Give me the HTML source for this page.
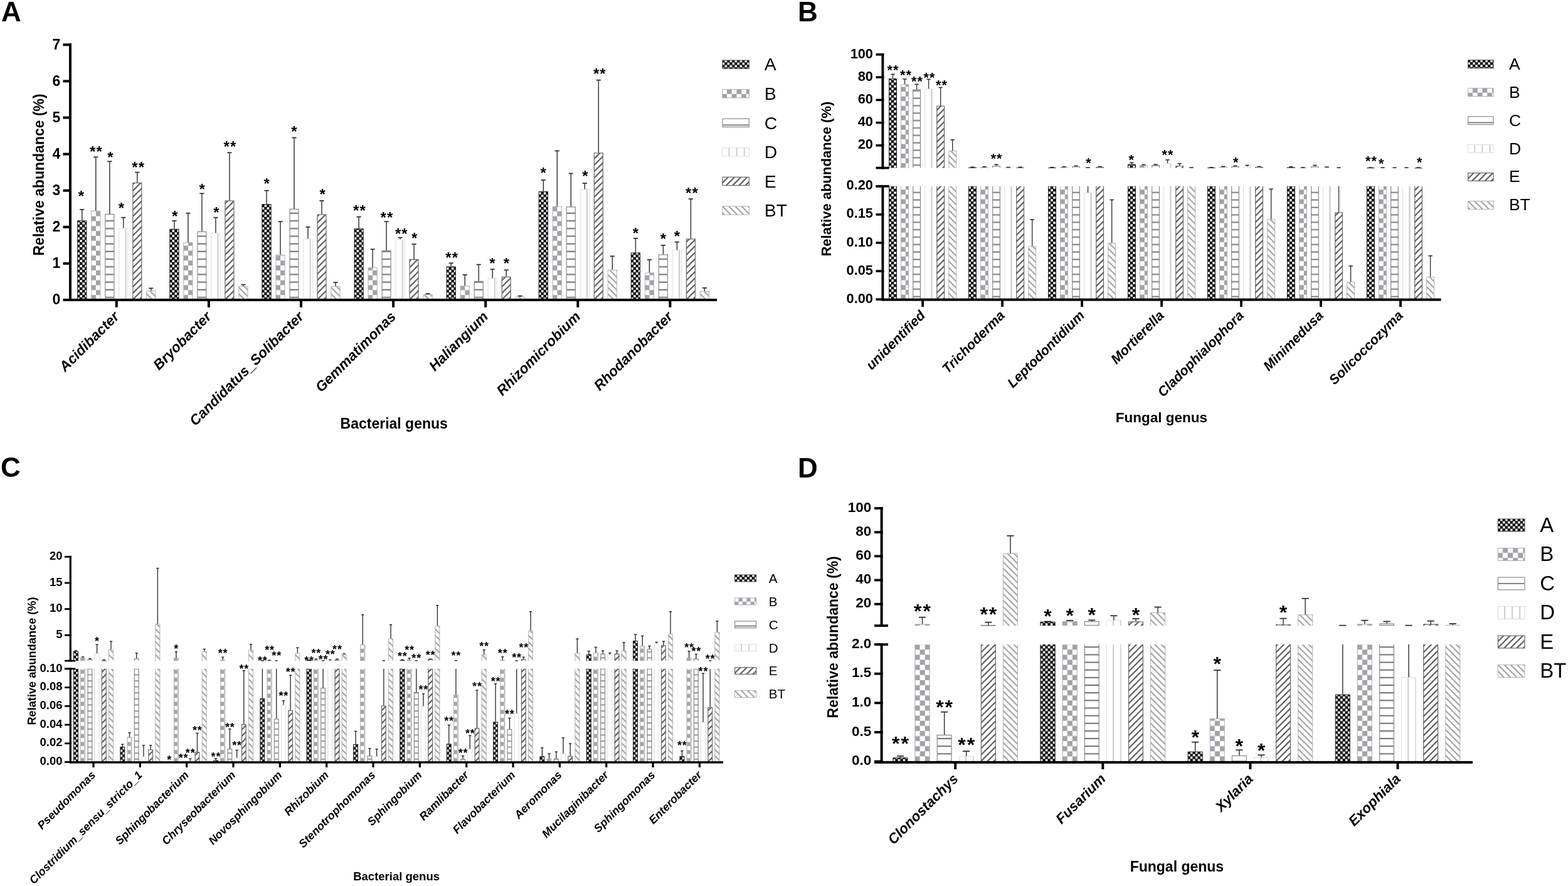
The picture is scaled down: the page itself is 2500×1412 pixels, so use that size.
<!DOCTYPE html><html><head><meta charset="utf-8"><title>Relative abundance of bacterial and fungal genera</title><style>html,body{margin:0;padding:0;background:#fff;}svg{display:block;}text{font-family:"Liberation Sans", Arial, Helvetica, sans-serif;fill:#000;}</style></head><body><svg xmlns="http://www.w3.org/2000/svg" width="2500" height="1412" viewBox="0 0 2500 1412"><rect width="2500" height="1412" fill="#fff"/><defs><pattern id="pA" patternUnits="userSpaceOnUse" width="8" height="8"><rect width="8" height="8" fill="#000"/><rect x="4.2" y="0.2" width="3.6" height="3.6" fill="#fff"/><rect x="0.2" y="4.2" width="3.6" height="3.6" fill="#fff"/></pattern><pattern id="pB" patternUnits="userSpaceOnUse" width="15.4" height="15.7"><rect width="15.4" height="15.7" fill="#fff"/><rect x="7.7" width="7.7" height="7.85" fill="#a2a2a8"/><rect y="7.85" width="7.7" height="7.85" fill="#a2a2a8"/></pattern><pattern id="pBb" patternUnits="userSpaceOnUse" width="15.6" height="15.2"><rect width="15.6" height="15.2" fill="#fff"/><rect x="7.8" width="7.8" height="7.6" fill="#a2a2a8"/><rect y="7.6" width="7.8" height="7.6" fill="#a2a2a8"/></pattern><pattern id="pBc" patternUnits="userSpaceOnUse" width="12.8" height="12.8"><rect width="12.8" height="12.8" fill="#fff"/><rect x="6.4" width="6.4" height="6.4" fill="#a2a2a8"/><rect y="6.4" width="6.4" height="6.4" fill="#a2a2a8"/></pattern><pattern id="pBd" patternUnits="userSpaceOnUse" width="16.2" height="16.2"><rect width="16.2" height="16.2" fill="#fff"/><rect x="8.1" width="8.1" height="8.1" fill="#a2a2a8"/><rect y="8.1" width="8.1" height="8.1" fill="#a2a2a8"/></pattern><pattern id="pC" patternUnits="userSpaceOnUse" width="12" height="12.2"><rect width="12" height="12.2" fill="#fff"/><rect y="7.20" width="12" height="2.0" fill="#707070"/><rect y="-5.00" width="12" height="2.0" fill="#707070"/></pattern><pattern id="pCb" patternUnits="userSpaceOnUse" width="12" height="11.85"><rect width="12" height="11.85" fill="#fff"/><rect y="6.50" width="12" height="1.9" fill="#727272"/><rect y="-5.35" width="12" height="1.9" fill="#727272"/></pattern><pattern id="pCc" patternUnits="userSpaceOnUse" width="12" height="9.6"><rect width="12" height="9.6" fill="#fff"/><rect y="4.20" width="12" height="1.6" fill="#808080"/><rect y="-5.40" width="12" height="1.6" fill="#808080"/></pattern><pattern id="pCd" patternUnits="userSpaceOnUse" width="12" height="12.15"><rect width="12" height="12.15" fill="#fff"/><rect y="11.15" width="12" height="2.0" fill="#707070"/><rect y="-1.00" width="12" height="2.0" fill="#707070"/></pattern><pattern id="pD" patternUnits="userSpaceOnUse" width="12.1" height="10"><rect width="12.1" height="10" fill="#fff"/><rect x="10.3" width="2.8" height="10" fill="#cacaca"/></pattern><pattern id="pE" patternUnits="userSpaceOnUse" width="10.2" height="10.2"><rect width="10.2" height="10.2" fill="#fff"/><path d="M-2,12.2 L12.2,-2 M-2,2 L2,-2 M8.2,12.2 L12.2,8.2" stroke="#505050" stroke-width="2.1"/></pattern><pattern id="pT" patternUnits="userSpaceOnUse" width="10.2" height="10.2"><rect width="10.2" height="10.2" fill="#fff"/><path d="M-2,-2 L12.2,12.2 M-2,8.2 L2,12.2 M8.2,-2 L12.2,2" stroke="#9a9aa0" stroke-width="2.0"/></pattern></defs><g transform="translate(123.2,478)"><rect x="0.5" y="-126.16" width="14.2" height="126.16" fill="url(#pA)" stroke="#222" stroke-width="1.0"/></g><line x1="130.8" y1="333.91" x2="130.8" y2="351.34" stroke="#2b2b2b" stroke-width="1.4"/><line x1="127.2" y1="333.91" x2="134.4" y2="333.91" stroke="#2b2b2b" stroke-width="1.7"/><text x="129.5" y="321.4" font-size="24" font-weight="bold" font-style="normal" text-anchor="middle" >*</text><g transform="translate(145.2,478)"><rect x="0.5" y="-141.85" width="14.2" height="141.85" fill="url(#pB)" stroke="#b0b0b4" stroke-width="1.0"/></g><line x1="152.8" y1="250.25" x2="152.8" y2="335.65" stroke="#2b2b2b" stroke-width="1.4"/><line x1="149.2" y1="250.25" x2="156.4" y2="250.25" stroke="#2b2b2b" stroke-width="1.7"/><text x="147.7" y="250.4" font-size="24" font-weight="bold" font-style="normal" text-anchor="middle" >*</text><text x="158.1" y="250.4" font-size="24" font-weight="bold" font-style="normal" text-anchor="middle" >*</text><g transform="translate(167.2,478)"><rect x="0.6" y="-136.52" width="14" height="136.52" fill="url(#pC)" stroke="#8a8a8a" stroke-width="1.2"/></g><line x1="174.8" y1="257.22" x2="174.8" y2="340.88" stroke="#2b2b2b" stroke-width="1.4"/><line x1="171.2" y1="257.22" x2="178.4" y2="257.22" stroke="#2b2b2b" stroke-width="1.7"/><text x="175.9" y="258.5" font-size="24" font-weight="bold" font-style="normal" text-anchor="middle" >*</text><g transform="translate(189.2,478)"><rect x="0.5" y="-113.96" width="14.2" height="113.96" fill="url(#pD)" stroke="#dedede" stroke-width="1.0"/></g><line x1="196.8" y1="346.69" x2="196.8" y2="363.54" stroke="#2b2b2b" stroke-width="1.4"/><line x1="193.2" y1="346.69" x2="200.4" y2="346.69" stroke="#2b2b2b" stroke-width="1.7"/><text x="193.3" y="340.1" font-size="24" font-weight="bold" font-style="normal" text-anchor="middle" >*</text><g transform="translate(211.2,478)"><rect x="0.6" y="-186.48" width="14" height="186.48" fill="url(#pE)" stroke="#6a6a6a" stroke-width="1.2"/></g><line x1="218.8" y1="274.65" x2="218.8" y2="290.92" stroke="#2b2b2b" stroke-width="1.4"/><line x1="215.2" y1="274.65" x2="222.4" y2="274.65" stroke="#2b2b2b" stroke-width="1.7"/><text x="215" y="274.7" font-size="24" font-weight="bold" font-style="normal" text-anchor="middle" >*</text><text x="225.4" y="274.7" font-size="24" font-weight="bold" font-style="normal" text-anchor="middle" >*</text><g transform="translate(233.2,478)"><rect x="0.5" y="-14.61" width="14.2" height="14.61" fill="url(#pT)" stroke="#b4b4b8" stroke-width="1.0"/></g><line x1="240.8" y1="459.41" x2="240.8" y2="462.89" stroke="#2b2b2b" stroke-width="1.4"/><line x1="237.2" y1="459.41" x2="244.4" y2="459.41" stroke="#2b2b2b" stroke-width="1.7"/><g transform="translate(270.3,478)"><rect x="0.5" y="-112.79" width="14.2" height="112.79" fill="url(#pA)" stroke="#222" stroke-width="1.0"/></g><line x1="277.9" y1="351.92" x2="277.9" y2="364.71" stroke="#2b2b2b" stroke-width="1.4"/><line x1="274.3" y1="351.92" x2="281.5" y2="351.92" stroke="#2b2b2b" stroke-width="1.7"/><text x="278.6" y="353" font-size="24" font-weight="bold" font-style="normal" text-anchor="middle" >*</text><g transform="translate(292.3,478)"><rect x="0.5" y="-91.3" width="14.2" height="91.3" fill="url(#pB)" stroke="#b0b0b4" stroke-width="1.0"/></g><line x1="299.9" y1="339.72" x2="299.9" y2="386.2" stroke="#2b2b2b" stroke-width="1.4"/><line x1="296.3" y1="339.72" x2="303.5" y2="339.72" stroke="#2b2b2b" stroke-width="1.7"/><g transform="translate(314.3,478)"><rect x="0.6" y="-108.63" width="14" height="108.63" fill="url(#pC)" stroke="#8a8a8a" stroke-width="1.2"/></g><line x1="321.9" y1="308.35" x2="321.9" y2="368.77" stroke="#2b2b2b" stroke-width="1.4"/><line x1="318.3" y1="308.35" x2="325.5" y2="308.35" stroke="#2b2b2b" stroke-width="1.7"/><text x="322.2" y="309.8" font-size="24" font-weight="bold" font-style="normal" text-anchor="middle" >*</text><g transform="translate(336.3,478)"><rect x="0.5" y="-106.4" width="14.2" height="106.4" fill="url(#pD)" stroke="#dedede" stroke-width="1.0"/></g><line x1="343.9" y1="346.69" x2="343.9" y2="371.1" stroke="#2b2b2b" stroke-width="1.4"/><line x1="340.3" y1="346.69" x2="347.5" y2="346.69" stroke="#2b2b2b" stroke-width="1.7"/><text x="345" y="346.5" font-size="24" font-weight="bold" font-style="normal" text-anchor="middle" >*</text><g transform="translate(358.3,478)"><rect x="0.6" y="-158.01" width="14" height="158.01" fill="url(#pE)" stroke="#6a6a6a" stroke-width="1.2"/></g><line x1="365.9" y1="243.28" x2="365.9" y2="319.39" stroke="#2b2b2b" stroke-width="1.4"/><line x1="362.3" y1="243.28" x2="369.5" y2="243.28" stroke="#2b2b2b" stroke-width="1.7"/><text x="361.2" y="241.9" font-size="24" font-weight="bold" font-style="normal" text-anchor="middle" >*</text><text x="371.6" y="241.9" font-size="24" font-weight="bold" font-style="normal" text-anchor="middle" >*</text><g transform="translate(380.3,478)"><rect x="0.5" y="-21.58" width="14.2" height="21.58" fill="url(#pT)" stroke="#b4b4b8" stroke-width="1.0"/></g><line x1="387.9" y1="453.6" x2="387.9" y2="455.92" stroke="#2b2b2b" stroke-width="1.4"/><line x1="384.3" y1="453.6" x2="391.5" y2="453.6" stroke="#2b2b2b" stroke-width="1.7"/><g transform="translate(417.4,478)"><rect x="0.5" y="-152.3" width="14.2" height="152.3" fill="url(#pA)" stroke="#222" stroke-width="1.0"/></g><line x1="425" y1="303.7" x2="425" y2="325.2" stroke="#2b2b2b" stroke-width="1.4"/><line x1="421.4" y1="303.7" x2="428.6" y2="303.7" stroke="#2b2b2b" stroke-width="1.7"/><text x="425.1" y="300.7" font-size="24" font-weight="bold" font-style="normal" text-anchor="middle" >*</text><g transform="translate(439.4,478)"><rect x="0.5" y="-71.54" width="14.2" height="71.54" fill="url(#pB)" stroke="#b0b0b4" stroke-width="1.0"/></g><line x1="447" y1="353.09" x2="447" y2="405.96" stroke="#2b2b2b" stroke-width="1.4"/><line x1="443.4" y1="353.09" x2="450.6" y2="353.09" stroke="#2b2b2b" stroke-width="1.7"/><g transform="translate(461.4,478)"><rect x="0.6" y="-144.65" width="14" height="144.65" fill="url(#pC)" stroke="#8a8a8a" stroke-width="1.2"/></g><line x1="469" y1="219.45" x2="469" y2="332.75" stroke="#2b2b2b" stroke-width="1.4"/><line x1="465.4" y1="219.45" x2="472.6" y2="219.45" stroke="#2b2b2b" stroke-width="1.7"/><text x="469" y="217.9" font-size="24" font-weight="bold" font-style="normal" text-anchor="middle" >*</text><g transform="translate(483.4,478)"><rect x="0.5" y="-97.11" width="14.2" height="97.11" fill="url(#pD)" stroke="#dedede" stroke-width="1.0"/></g><line x1="491" y1="361.8" x2="491" y2="380.39" stroke="#2b2b2b" stroke-width="1.4"/><line x1="487.4" y1="361.8" x2="494.6" y2="361.8" stroke="#2b2b2b" stroke-width="1.7"/><g transform="translate(505.4,478)"><rect x="0.6" y="-135.93" width="14" height="135.93" fill="url(#pE)" stroke="#6a6a6a" stroke-width="1.2"/></g><line x1="513" y1="319.97" x2="513" y2="341.47" stroke="#2b2b2b" stroke-width="1.4"/><line x1="509.4" y1="319.97" x2="516.6" y2="319.97" stroke="#2b2b2b" stroke-width="1.7"/><text x="514.1" y="318" font-size="24" font-weight="bold" font-style="normal" text-anchor="middle" >*</text><g transform="translate(527.4,478)"><rect x="0.5" y="-21.58" width="14.2" height="21.58" fill="url(#pT)" stroke="#b4b4b8" stroke-width="1.0"/></g><line x1="535" y1="450.11" x2="535" y2="455.92" stroke="#2b2b2b" stroke-width="1.4"/><line x1="531.4" y1="450.11" x2="538.6" y2="450.11" stroke="#2b2b2b" stroke-width="1.7"/><g transform="translate(564.5,478)"><rect x="0.5" y="-113.38" width="14.2" height="113.38" fill="url(#pA)" stroke="#222" stroke-width="1.0"/></g><line x1="572.1" y1="345.53" x2="572.1" y2="364.12" stroke="#2b2b2b" stroke-width="1.4"/><line x1="568.5" y1="345.53" x2="575.7" y2="345.53" stroke="#2b2b2b" stroke-width="1.7"/><text x="567.7" y="344.1" font-size="24" font-weight="bold" font-style="normal" text-anchor="middle" >*</text><text x="578.1" y="344.1" font-size="24" font-weight="bold" font-style="normal" text-anchor="middle" >*</text><g transform="translate(586.5,478)"><rect x="0.5" y="-51.21" width="14.2" height="51.21" fill="url(#pB)" stroke="#b0b0b4" stroke-width="1.0"/></g><line x1="594.1" y1="397.24" x2="594.1" y2="426.29" stroke="#2b2b2b" stroke-width="1.4"/><line x1="590.5" y1="397.24" x2="597.7" y2="397.24" stroke="#2b2b2b" stroke-width="1.7"/><g transform="translate(608.5,478)"><rect x="0.6" y="-78.42" width="14" height="78.42" fill="url(#pC)" stroke="#8a8a8a" stroke-width="1.2"/></g><line x1="616.1" y1="353.09" x2="616.1" y2="398.98" stroke="#2b2b2b" stroke-width="1.4"/><line x1="612.5" y1="353.09" x2="619.7" y2="353.09" stroke="#2b2b2b" stroke-width="1.7"/><text x="611.2" y="354.7" font-size="24" font-weight="bold" font-style="normal" text-anchor="middle" >*</text><text x="621.6" y="354.7" font-size="24" font-weight="bold" font-style="normal" text-anchor="middle" >*</text><g transform="translate(630.5,478)"><rect x="0.5" y="-95.95" width="14.2" height="95.95" fill="url(#pD)" stroke="#dedede" stroke-width="1.0"/></g><line x1="638.1" y1="378.65" x2="638.1" y2="381.55" stroke="#2b2b2b" stroke-width="1.4"/><line x1="634.5" y1="378.65" x2="641.7" y2="378.65" stroke="#2b2b2b" stroke-width="1.7"/><text x="634.6" y="380.6" font-size="24" font-weight="bold" font-style="normal" text-anchor="middle" >*</text><text x="645" y="380.6" font-size="24" font-weight="bold" font-style="normal" text-anchor="middle" >*</text><g transform="translate(652.5,478)"><rect x="0.6" y="-64.47" width="14" height="64.47" fill="url(#pE)" stroke="#6a6a6a" stroke-width="1.2"/></g><line x1="660.1" y1="389.11" x2="660.1" y2="412.93" stroke="#2b2b2b" stroke-width="1.4"/><line x1="656.5" y1="389.11" x2="663.7" y2="389.11" stroke="#2b2b2b" stroke-width="1.7"/><text x="660.7" y="388.4" font-size="24" font-weight="bold" font-style="normal" text-anchor="middle" >*</text><g transform="translate(674.5,478)"><rect x="0.5" y="-8.21" width="14.2" height="8.21" fill="url(#pT)" stroke="#b4b4b8" stroke-width="1.0"/></g><line x1="682.1" y1="468.12" x2="682.1" y2="469.29" stroke="#2b2b2b" stroke-width="1.4"/><line x1="678.5" y1="468.12" x2="685.7" y2="468.12" stroke="#2b2b2b" stroke-width="1.7"/><g transform="translate(711.6,478)"><rect x="0.5" y="-52.95" width="14.2" height="52.95" fill="url(#pA)" stroke="#222" stroke-width="1.0"/></g><line x1="719.2" y1="419.32" x2="719.2" y2="424.55" stroke="#2b2b2b" stroke-width="1.4"/><line x1="715.6" y1="419.32" x2="722.8" y2="419.32" stroke="#2b2b2b" stroke-width="1.7"/><text x="714.9" y="418.8" font-size="24" font-weight="bold" font-style="normal" text-anchor="middle" >*</text><text x="725.3" y="418.8" font-size="24" font-weight="bold" font-style="normal" text-anchor="middle" >*</text><g transform="translate(733.6,478)"><rect x="0.5" y="-22.16" width="14.2" height="22.16" fill="url(#pB)" stroke="#b0b0b4" stroke-width="1.0"/></g><line x1="741.2" y1="437.91" x2="741.2" y2="455.34" stroke="#2b2b2b" stroke-width="1.4"/><line x1="737.6" y1="437.91" x2="744.8" y2="437.91" stroke="#2b2b2b" stroke-width="1.7"/><g transform="translate(755.6,478)"><rect x="0.6" y="-29.61" width="14" height="29.61" fill="url(#pC)" stroke="#8a8a8a" stroke-width="1.2"/></g><line x1="763.2" y1="421.64" x2="763.2" y2="447.79" stroke="#2b2b2b" stroke-width="1.4"/><line x1="759.6" y1="421.64" x2="766.8" y2="421.64" stroke="#2b2b2b" stroke-width="1.7"/><g transform="translate(777.6,478)"><rect x="0.5" y="-34.36" width="14.2" height="34.36" fill="url(#pD)" stroke="#dedede" stroke-width="1.0"/></g><line x1="785.2" y1="429.2" x2="785.2" y2="443.14" stroke="#2b2b2b" stroke-width="1.4"/><line x1="781.6" y1="429.2" x2="788.8" y2="429.2" stroke="#2b2b2b" stroke-width="1.7"/><text x="784.9" y="427.8" font-size="24" font-weight="bold" font-style="normal" text-anchor="middle" >*</text><g transform="translate(799.6,478)"><rect x="0.6" y="-36.58" width="14" height="36.58" fill="url(#pE)" stroke="#6a6a6a" stroke-width="1.2"/></g><line x1="807.2" y1="430.36" x2="807.2" y2="440.82" stroke="#2b2b2b" stroke-width="1.4"/><line x1="803.6" y1="430.36" x2="810.8" y2="430.36" stroke="#2b2b2b" stroke-width="1.7"/><text x="807.3" y="428" font-size="24" font-weight="bold" font-style="normal" text-anchor="middle" >*</text><g transform="translate(821.6,478)"><rect x="0.5" y="-4.73" width="14.2" height="4.73" fill="url(#pT)" stroke="#b4b4b8" stroke-width="1.0"/></g><line x1="829.2" y1="471.61" x2="829.2" y2="472.77" stroke="#2b2b2b" stroke-width="1.4"/><line x1="825.6" y1="471.61" x2="832.8" y2="471.61" stroke="#2b2b2b" stroke-width="1.7"/><g transform="translate(858.7,478)"><rect x="0.5" y="-172.64" width="14.2" height="172.64" fill="url(#pA)" stroke="#222" stroke-width="1.0"/></g><line x1="866.3" y1="286.85" x2="866.3" y2="304.86" stroke="#2b2b2b" stroke-width="1.4"/><line x1="862.7" y1="286.85" x2="869.9" y2="286.85" stroke="#2b2b2b" stroke-width="1.7"/><text x="866.1" y="283.7" font-size="24" font-weight="bold" font-style="normal" text-anchor="middle" >*</text><g transform="translate(880.7,478)"><rect x="0.5" y="-148.82" width="14.2" height="148.82" fill="url(#pB)" stroke="#b0b0b4" stroke-width="1.0"/></g><line x1="888.3" y1="240.37" x2="888.3" y2="328.68" stroke="#2b2b2b" stroke-width="1.4"/><line x1="884.7" y1="240.37" x2="891.9" y2="240.37" stroke="#2b2b2b" stroke-width="1.7"/><g transform="translate(902.7,478)"><rect x="0.6" y="-148.14" width="14" height="148.14" fill="url(#pC)" stroke="#8a8a8a" stroke-width="1.2"/></g><line x1="910.3" y1="276.39" x2="910.3" y2="329.26" stroke="#2b2b2b" stroke-width="1.4"/><line x1="906.7" y1="276.39" x2="913.9" y2="276.39" stroke="#2b2b2b" stroke-width="1.7"/><g transform="translate(924.7,478)"><rect x="0.5" y="-176.12" width="14.2" height="176.12" fill="url(#pD)" stroke="#dedede" stroke-width="1.0"/></g><line x1="932.3" y1="292.08" x2="932.3" y2="301.38" stroke="#2b2b2b" stroke-width="1.4"/><line x1="928.7" y1="292.08" x2="935.9" y2="292.08" stroke="#2b2b2b" stroke-width="1.7"/><text x="933" y="289.4" font-size="24" font-weight="bold" font-style="normal" text-anchor="middle" >*</text><g transform="translate(946.7,478)"><rect x="0.6" y="-234.12" width="14" height="234.12" fill="url(#pE)" stroke="#6a6a6a" stroke-width="1.2"/></g><line x1="954.3" y1="127.66" x2="954.3" y2="243.28" stroke="#2b2b2b" stroke-width="1.4"/><line x1="950.7" y1="127.66" x2="957.9" y2="127.66" stroke="#2b2b2b" stroke-width="1.7"/><text x="950.6" y="126.4" font-size="24" font-weight="bold" font-style="normal" text-anchor="middle" >*</text><text x="961" y="126.4" font-size="24" font-weight="bold" font-style="normal" text-anchor="middle" >*</text><g transform="translate(968.7,478)"><rect x="0.5" y="-47.72" width="14.2" height="47.72" fill="url(#pT)" stroke="#b4b4b8" stroke-width="1.0"/></g><line x1="976.3" y1="408.28" x2="976.3" y2="429.78" stroke="#2b2b2b" stroke-width="1.4"/><line x1="972.7" y1="408.28" x2="979.9" y2="408.28" stroke="#2b2b2b" stroke-width="1.7"/><g transform="translate(1005.8,478)"><rect x="0.5" y="-75.03" width="14.2" height="75.03" fill="url(#pA)" stroke="#222" stroke-width="1.0"/></g><line x1="1013.4" y1="379.81" x2="1013.4" y2="402.47" stroke="#2b2b2b" stroke-width="1.4"/><line x1="1009.8" y1="379.81" x2="1017" y2="379.81" stroke="#2b2b2b" stroke-width="1.7"/><text x="1013.3" y="379.8" font-size="24" font-weight="bold" font-style="normal" text-anchor="middle" >*</text><g transform="translate(1027.8,478)"><rect x="0.5" y="-43.07" width="14.2" height="43.07" fill="url(#pB)" stroke="#b0b0b4" stroke-width="1.0"/></g><line x1="1035.4" y1="414.09" x2="1035.4" y2="434.43" stroke="#2b2b2b" stroke-width="1.4"/><line x1="1031.8" y1="414.09" x2="1039" y2="414.09" stroke="#2b2b2b" stroke-width="1.7"/><g transform="translate(1049.8,478)"><rect x="0.6" y="-72.03" width="14" height="72.03" fill="url(#pC)" stroke="#8a8a8a" stroke-width="1.2"/></g><line x1="1057.4" y1="390.85" x2="1057.4" y2="405.38" stroke="#2b2b2b" stroke-width="1.4"/><line x1="1053.8" y1="390.85" x2="1061" y2="390.85" stroke="#2b2b2b" stroke-width="1.7"/><text x="1057.3" y="388.8" font-size="24" font-weight="bold" font-style="normal" text-anchor="middle" >*</text><g transform="translate(1071.8,478)"><rect x="0.5" y="-79.1" width="14.2" height="79.1" fill="url(#pD)" stroke="#dedede" stroke-width="1.0"/></g><line x1="1079.4" y1="385.62" x2="1079.4" y2="398.4" stroke="#2b2b2b" stroke-width="1.4"/><line x1="1075.8" y1="385.62" x2="1083" y2="385.62" stroke="#2b2b2b" stroke-width="1.7"/><text x="1079.5" y="384.9" font-size="24" font-weight="bold" font-style="normal" text-anchor="middle" >*</text><g transform="translate(1093.8,478)"><rect x="0.6" y="-97.01" width="14" height="97.01" fill="url(#pE)" stroke="#6a6a6a" stroke-width="1.2"/></g><line x1="1101.4" y1="317.06" x2="1101.4" y2="380.39" stroke="#2b2b2b" stroke-width="1.4"/><line x1="1097.8" y1="317.06" x2="1105" y2="317.06" stroke="#2b2b2b" stroke-width="1.7"/><text x="1097.7" y="316.3" font-size="24" font-weight="bold" font-style="normal" text-anchor="middle" >*</text><text x="1108.1" y="316.3" font-size="24" font-weight="bold" font-style="normal" text-anchor="middle" >*</text><g transform="translate(1115.8,478)"><rect x="0.5" y="-13.44" width="14.2" height="13.44" fill="url(#pT)" stroke="#b4b4b8" stroke-width="1.0"/></g><line x1="1123.4" y1="458.83" x2="1123.4" y2="464.06" stroke="#2b2b2b" stroke-width="1.4"/><line x1="1119.8" y1="458.83" x2="1127" y2="458.83" stroke="#2b2b2b" stroke-width="1.7"/><rect x="110" y="69.3" width="4" height="410.7" fill="#000"/><rect x="100.5" y="476" width="13.5" height="4" fill="#000"/><text x="96.3" y="485.4" font-size="23" font-weight="bold" font-style="normal" text-anchor="end" >0</text><rect x="100.5" y="417.9" width="13.5" height="4" fill="#000"/><text x="96.3" y="427.3" font-size="23" font-weight="bold" font-style="normal" text-anchor="end" >1</text><rect x="100.5" y="359.8" width="13.5" height="4" fill="#000"/><text x="96.3" y="369.2" font-size="23" font-weight="bold" font-style="normal" text-anchor="end" >2</text><rect x="100.5" y="301.7" width="13.5" height="4" fill="#000"/><text x="96.3" y="311.1" font-size="23" font-weight="bold" font-style="normal" text-anchor="end" >3</text><rect x="100.5" y="243.6" width="13.5" height="4" fill="#000"/><text x="96.3" y="253" font-size="23" font-weight="bold" font-style="normal" text-anchor="end" >4</text><rect x="100.5" y="185.5" width="13.5" height="4" fill="#000"/><text x="96.3" y="194.9" font-size="23" font-weight="bold" font-style="normal" text-anchor="end" >5</text><rect x="100.5" y="127.4" width="13.5" height="4" fill="#000"/><text x="96.3" y="136.8" font-size="23" font-weight="bold" font-style="normal" text-anchor="end" >6</text><rect x="100.5" y="69.3" width="13.5" height="4" fill="#000"/><text x="96.3" y="78.7" font-size="23" font-weight="bold" font-style="normal" text-anchor="end" >7</text><rect x="110" y="476" width="1033" height="4" fill="#000"/><rect x="183.8" y="478" width="4" height="11.8" fill="#000"/><text x="191.2" y="506" font-size="22.7" font-weight="bold" font-style="italic" text-anchor="end" transform="rotate(-45 191.2 506)">Acidibacter</text><rect x="330.9" y="478" width="4" height="11.8" fill="#000"/><text x="338.3" y="506" font-size="22.7" font-weight="bold" font-style="italic" text-anchor="end" transform="rotate(-45 338.3 506)">Bryobacter</text><rect x="478" y="478" width="4" height="11.8" fill="#000"/><text x="485.4" y="506" font-size="22.7" font-weight="bold" font-style="italic" text-anchor="end" transform="rotate(-45 485.4 506)">Candidatus_Solibacter</text><rect x="625.1" y="478" width="4" height="11.8" fill="#000"/><text x="632.5" y="506" font-size="22.7" font-weight="bold" font-style="italic" text-anchor="end" transform="rotate(-45 632.5 506)">Gemmatimonas</text><rect x="772.2" y="478" width="4" height="11.8" fill="#000"/><text x="779.6" y="506" font-size="22.7" font-weight="bold" font-style="italic" text-anchor="end" transform="rotate(-45 779.6 506)">Haliangium</text><rect x="919.3" y="478" width="4" height="11.8" fill="#000"/><text x="926.7" y="506" font-size="22.7" font-weight="bold" font-style="italic" text-anchor="end" transform="rotate(-45 926.7 506)">Rhizomicrobium</text><rect x="1066.4" y="478" width="4" height="11.8" fill="#000"/><text x="1073.8" y="506" font-size="22.7" font-weight="bold" font-style="italic" text-anchor="end" transform="rotate(-45 1073.8 506)">Rhodanobacter</text><text x="69.7" y="278.4" font-size="23" font-weight="bold" text-anchor="middle" transform="rotate(-90 69.7 278.4)">Relative abundance (%)</text><text x="628.2" y="682.6" font-size="23" font-weight="bold" font-style="normal" text-anchor="middle" >Bacterial genus</text><g transform="translate(1151.3,95.5)"><rect x="0.5" y="0.5" width="42.6" height="13.4" fill="url(#pA)" stroke="#555" stroke-width="1.0"/></g><text x="1218.8" y="112.43" font-size="28.3" font-weight="normal" font-style="normal" text-anchor="start" >A</text><g transform="translate(1151.3,142.05)"><rect x="0.5" y="0.5" width="42.6" height="13.4" fill="url(#pB)" stroke="#b0b0b4" stroke-width="1.0"/></g><text x="1218.8" y="158.98" font-size="28.3" font-weight="normal" font-style="normal" text-anchor="start" >B</text><g transform="translate(1151.3,188.6)"><rect x="0.6" y="0.6" width="42.4" height="13.2" fill="#fff" stroke="#8a8a8a" stroke-width="1.2"/><rect x="1.2" y="9.8" width="41.2" height="1.8" fill="#777"/></g><text x="1218.8" y="205.53" font-size="28.3" font-weight="normal" font-style="normal" text-anchor="start" >C</text><g transform="translate(1151.3,235.15)"><rect x="0.5" y="0.5" width="42.6" height="13.4" fill="url(#pD)" stroke="#dedede" stroke-width="1.0"/></g><text x="1218.8" y="252.08" font-size="28.3" font-weight="normal" font-style="normal" text-anchor="start" >D</text><g transform="translate(1151.3,281.7)"><rect x="0.6" y="0.6" width="42.4" height="13.2" fill="url(#pE)" stroke="#6a6a6a" stroke-width="1.2"/></g><text x="1218.8" y="298.63" font-size="28.3" font-weight="normal" font-style="normal" text-anchor="start" >E</text><g transform="translate(1151.3,328.25)"><rect x="0.5" y="0.5" width="42.6" height="13.4" fill="url(#pT)" stroke="#b4b4b8" stroke-width="1.0"/></g><text x="1218.8" y="345.18" font-size="28.3" font-weight="normal" font-style="normal" text-anchor="start" >BT</text><text x="2" y="34.4" font-size="44" font-weight="bold" font-style="normal" text-anchor="start" >A</text><g transform="translate(1417.05,477.1)"><rect x="0" y="-180.3" width="12.9" height="180.3" fill="url(#pA)"/><path d="M0.5,-180.3 V0 H12.4 V-180.3" fill="none" stroke="#222" stroke-width="1.0"/></g><g transform="translate(1417.05,267.6)"><rect x="0" y="-142.31" width="12.9" height="142.31" fill="url(#pA)"/><path d="M0.5,0 V-141.81 H12.4 V0" fill="none" stroke="#222" stroke-width="1.0"/></g><line x1="1423.5" y1="118.4" x2="1423.5" y2="125.29" stroke="#2b2b2b" stroke-width="1.3"/><line x1="1420.35" y1="118.4" x2="1426.65" y2="118.4" stroke="#2b2b2b" stroke-width="1.6"/><text x="1418.8" y="118.9" font-size="21.5" font-weight="bold" font-style="normal" text-anchor="middle" >*</text><text x="1428.2" y="118.9" font-size="21.5" font-weight="bold" font-style="normal" text-anchor="middle" >*</text><g transform="translate(1436.09,477.1)"><rect x="0" y="-180.3" width="12.9" height="180.3" fill="url(#pBb)"/><path d="M0.5,-180.3 V0 H12.4 V-180.3" fill="none" stroke="#b0b0b4" stroke-width="1.0"/></g><g transform="translate(1436.09,267.6)"><rect x="0" y="-133.26" width="12.9" height="133.26" fill="url(#pBb)"/><path d="M0.5,0 V-132.76 H12.4 V0" fill="none" stroke="#b0b0b4" stroke-width="1.0"/></g><line x1="1442.54" y1="126.01" x2="1442.54" y2="134.34" stroke="#2b2b2b" stroke-width="1.3"/><line x1="1439.39" y1="126.01" x2="1445.69" y2="126.01" stroke="#2b2b2b" stroke-width="1.6"/><text x="1439.2" y="126.9" font-size="21.5" font-weight="bold" font-style="normal" text-anchor="middle" >*</text><text x="1448.6" y="126.9" font-size="21.5" font-weight="bold" font-style="normal" text-anchor="middle" >*</text><g transform="translate(1455.13,477.1)"><rect x="0" y="-180.3" width="12.9" height="180.3" fill="url(#pCb)"/><path d="M0.6,-180.3 V0 H12.3 V-180.3" fill="none" stroke="#8a8a8a" stroke-width="1.2"/></g><g transform="translate(1455.13,267.6)"><rect x="0" y="-125.29" width="12.9" height="125.29" fill="url(#pCb)"/><path d="M0.6,0 V-124.69 H12.3 V0" fill="none" stroke="#8a8a8a" stroke-width="1.2"/></g><line x1="1461.58" y1="134.34" x2="1461.58" y2="142.31" stroke="#2b2b2b" stroke-width="1.3"/><line x1="1458.43" y1="134.34" x2="1464.73" y2="134.34" stroke="#2b2b2b" stroke-width="1.6"/><text x="1457.3" y="137" font-size="21.5" font-weight="bold" font-style="normal" text-anchor="middle" >*</text><text x="1466.7" y="137" font-size="21.5" font-weight="bold" font-style="normal" text-anchor="middle" >*</text><g transform="translate(1474.17,477.1)"><rect x="0" y="-180.3" width="12.9" height="180.3" fill="url(#pD)"/><path d="M0.5,-180.3 V0 H12.4 V-180.3" fill="none" stroke="#dedede" stroke-width="1.0"/></g><g transform="translate(1474.17,267.6)"><rect x="0" y="-126.2" width="12.9" height="126.2" fill="url(#pD)"/><path d="M0.5,0 V-125.7 H12.4 V0" fill="none" stroke="#dedede" stroke-width="1.0"/></g><line x1="1480.62" y1="126.37" x2="1480.62" y2="141.4" stroke="#2b2b2b" stroke-width="1.3"/><line x1="1477.47" y1="126.37" x2="1483.77" y2="126.37" stroke="#2b2b2b" stroke-width="1.6"/><text x="1476.7" y="131" font-size="21.5" font-weight="bold" font-style="normal" text-anchor="middle" >*</text><text x="1486.1" y="131" font-size="21.5" font-weight="bold" font-style="normal" text-anchor="middle" >*</text><g transform="translate(1493.21,477.1)"><rect x="0" y="-180.3" width="12.9" height="180.3" fill="url(#pE)"/><path d="M0.6,-180.3 V0 H12.3 V-180.3" fill="none" stroke="#6a6a6a" stroke-width="1.2"/></g><g transform="translate(1493.21,267.6)"><rect x="0" y="-99.22" width="12.9" height="99.22" fill="url(#pE)"/><path d="M0.6,0 V-98.62 H12.3 V0" fill="none" stroke="#6a6a6a" stroke-width="1.2"/></g><line x1="1499.66" y1="139.41" x2="1499.66" y2="168.38" stroke="#2b2b2b" stroke-width="1.3"/><line x1="1496.51" y1="139.41" x2="1502.81" y2="139.41" stroke="#2b2b2b" stroke-width="1.6"/><text x="1496.3" y="143.1" font-size="21.5" font-weight="bold" font-style="normal" text-anchor="middle" >*</text><text x="1505.7" y="143.1" font-size="21.5" font-weight="bold" font-style="normal" text-anchor="middle" >*</text><g transform="translate(1512.25,477.1)"><rect x="0" y="-180.3" width="12.9" height="180.3" fill="url(#pT)"/><path d="M0.5,-180.3 V0 H12.4 V-180.3" fill="none" stroke="#b4b4b8" stroke-width="1.0"/></g><g transform="translate(1512.25,267.6)"><rect x="0" y="-27.34" width="12.9" height="27.34" fill="url(#pT)"/><path d="M0.5,0 V-26.84 H12.4 V0" fill="none" stroke="#b4b4b8" stroke-width="1.0"/></g><line x1="1518.7" y1="222.7" x2="1518.7" y2="240.26" stroke="#2b2b2b" stroke-width="1.3"/><line x1="1515.55" y1="222.7" x2="1521.85" y2="222.7" stroke="#2b2b2b" stroke-width="1.6"/><g transform="translate(1544.03,477.1)"><rect x="0" y="-180.3" width="12.9" height="180.3" fill="url(#pA)"/><path d="M0.5,-180.3 V0 H12.4 V-180.3" fill="none" stroke="#222" stroke-width="1.0"/></g><g transform="translate(1544.03,267.6)"><rect x="0" y="-0.91" width="12.9" height="0.91" fill="url(#pA)"/><path d="M0.5,0 V-0.41 H12.4 V0" fill="none" stroke="#222" stroke-width="1.0"/></g><line x1="1550.48" y1="266.33" x2="1550.48" y2="266.69" stroke="#2b2b2b" stroke-width="1.3"/><line x1="1547.33" y1="266.33" x2="1553.63" y2="266.33" stroke="#2b2b2b" stroke-width="1.6"/><g transform="translate(1563.07,477.1)"><rect x="0" y="-180.3" width="12.9" height="180.3" fill="url(#pBb)"/><path d="M0.5,-180.3 V0 H12.4 V-180.3" fill="none" stroke="#b0b0b4" stroke-width="1.0"/></g><g transform="translate(1563.07,267.6)"><rect x="0" y="-1.09" width="12.9" height="1.09" fill="url(#pBb)"/><path d="M0.5,0 V-0.59 H12.4 V0" fill="none" stroke="#b0b0b4" stroke-width="1.0"/></g><line x1="1569.52" y1="265.79" x2="1569.52" y2="266.51" stroke="#2b2b2b" stroke-width="1.3"/><line x1="1566.37" y1="265.79" x2="1572.67" y2="265.79" stroke="#2b2b2b" stroke-width="1.6"/><g transform="translate(1582.11,477.1)"><rect x="0" y="-180.3" width="12.9" height="180.3" fill="url(#pCb)"/><path d="M0.6,-180.3 V0 H12.3 V-180.3" fill="none" stroke="#8a8a8a" stroke-width="1.2"/></g><g transform="translate(1582.11,267.6)"><rect x="0" y="-3.26" width="12.9" height="3.26" fill="url(#pCb)"/><path d="M0.6,0 V-2.66 H12.3 V0" fill="none" stroke="#8a8a8a" stroke-width="1.2"/></g><line x1="1588.56" y1="262.17" x2="1588.56" y2="264.34" stroke="#2b2b2b" stroke-width="1.3"/><line x1="1585.41" y1="262.17" x2="1591.71" y2="262.17" stroke="#2b2b2b" stroke-width="1.6"/><text x="1583.9" y="260" font-size="21.5" font-weight="bold" font-style="normal" text-anchor="middle" >*</text><text x="1593.3" y="260" font-size="21.5" font-weight="bold" font-style="normal" text-anchor="middle" >*</text><g transform="translate(1601.15,477.1)"><rect x="0" y="-180.3" width="12.9" height="180.3" fill="url(#pD)"/><path d="M0.5,-180.3 V0 H12.4 V-180.3" fill="none" stroke="#dedede" stroke-width="1.0"/></g><g transform="translate(1601.15,267.6)"><rect x="0" y="-0.54" width="12.9" height="0.54" fill="url(#pD)"/><path d="M0.5,0 V-0.04 H12.4 V0" fill="none" stroke="#dedede" stroke-width="1.0"/></g><line x1="1607.6" y1="266.69" x2="1607.6" y2="267.06" stroke="#2b2b2b" stroke-width="1.3"/><line x1="1604.45" y1="266.69" x2="1610.75" y2="266.69" stroke="#2b2b2b" stroke-width="1.6"/><g transform="translate(1620.19,477.1)"><rect x="0" y="-180.3" width="12.9" height="180.3" fill="url(#pE)"/><path d="M0.6,-180.3 V0 H12.3 V-180.3" fill="none" stroke="#6a6a6a" stroke-width="1.2"/></g><g transform="translate(1620.19,267.6)"><rect x="0" y="-0.72" width="12.9" height="0.72" fill="url(#pE)"/><path d="M0.6,0 V-0.12 H12.3 V0" fill="none" stroke="#6a6a6a" stroke-width="1.2"/></g><line x1="1626.64" y1="266.33" x2="1626.64" y2="266.88" stroke="#2b2b2b" stroke-width="1.3"/><line x1="1623.49" y1="266.33" x2="1629.79" y2="266.33" stroke="#2b2b2b" stroke-width="1.6"/><g transform="translate(1639.23,477.1)"><rect x="0.5" y="-84.24" width="11.9" height="84.24" fill="url(#pT)" stroke="#b4b4b8" stroke-width="1.0"/></g><line x1="1645.68" y1="349.99" x2="1645.68" y2="392.36" stroke="#2b2b2b" stroke-width="1.3"/><line x1="1642.53" y1="349.99" x2="1648.83" y2="349.99" stroke="#2b2b2b" stroke-width="1.6"/><g transform="translate(1671.01,477.1)"><rect x="0" y="-180.3" width="12.9" height="180.3" fill="url(#pA)"/><path d="M0.5,-180.3 V0 H12.4 V-180.3" fill="none" stroke="#222" stroke-width="1.0"/></g><g transform="translate(1671.01,267.6)"><rect x="0" y="-0.54" width="12.9" height="0.54" fill="url(#pA)"/><path d="M0.5,0 V-0.04 H12.4 V0" fill="none" stroke="#222" stroke-width="1.0"/></g><line x1="1677.46" y1="266.69" x2="1677.46" y2="267.06" stroke="#2b2b2b" stroke-width="1.3"/><line x1="1674.31" y1="266.69" x2="1680.61" y2="266.69" stroke="#2b2b2b" stroke-width="1.6"/><g transform="translate(1690.05,477.1)"><rect x="0" y="-180.3" width="12.9" height="180.3" fill="url(#pBb)"/><path d="M0.5,-180.3 V0 H12.4 V-180.3" fill="none" stroke="#b0b0b4" stroke-width="1.0"/></g><g transform="translate(1690.05,267.6)"><rect x="0" y="-1.27" width="12.9" height="1.27" fill="url(#pBb)"/><path d="M0.5,0 V-0.77 H12.4 V0" fill="none" stroke="#b0b0b4" stroke-width="1.0"/></g><line x1="1696.5" y1="265.79" x2="1696.5" y2="266.33" stroke="#2b2b2b" stroke-width="1.3"/><line x1="1693.35" y1="265.79" x2="1699.65" y2="265.79" stroke="#2b2b2b" stroke-width="1.6"/><g transform="translate(1709.09,477.1)"><rect x="0" y="-180.3" width="12.9" height="180.3" fill="url(#pCb)"/><path d="M0.6,-180.3 V0 H12.3 V-180.3" fill="none" stroke="#8a8a8a" stroke-width="1.2"/></g><g transform="translate(1709.09,267.6)"><rect x="0" y="-2.35" width="12.9" height="2.35" fill="url(#pCb)"/><path d="M0.6,0 V-1.75 H12.3 V0" fill="none" stroke="#8a8a8a" stroke-width="1.2"/></g><line x1="1715.54" y1="264.34" x2="1715.54" y2="265.25" stroke="#2b2b2b" stroke-width="1.3"/><line x1="1712.39" y1="264.34" x2="1718.69" y2="264.34" stroke="#2b2b2b" stroke-width="1.6"/><g transform="translate(1728.13,477.1)"><rect x="0.5" y="-169.52" width="11.9" height="169.52" fill="url(#pD)" stroke="#dedede" stroke-width="1.0"/></g><line x1="1734.58" y1="296.8" x2="1734.58" y2="307.08" stroke="#2b2b2b" stroke-width="1.3"/><line x1="1734.58" y1="267.06" x2="1734.58" y2="267.6" stroke="#2b2b2b" stroke-width="1.3"/><line x1="1731.43" y1="267.06" x2="1737.73" y2="267.06" stroke="#2b2b2b" stroke-width="1.6"/><text x="1735.5" y="266.8" font-size="21.5" font-weight="bold" font-style="normal" text-anchor="middle" >*</text><g transform="translate(1747.17,477.1)"><rect x="0" y="-180.3" width="12.9" height="180.3" fill="url(#pE)"/><path d="M0.6,-180.3 V0 H12.3 V-180.3" fill="none" stroke="#6a6a6a" stroke-width="1.2"/></g><g transform="translate(1747.17,267.6)"><rect x="0" y="-1.27" width="12.9" height="1.27" fill="url(#pE)"/><path d="M0.6,0 V-0.67 H12.3 V0" fill="none" stroke="#6a6a6a" stroke-width="1.2"/></g><line x1="1753.62" y1="265.61" x2="1753.62" y2="266.33" stroke="#2b2b2b" stroke-width="1.3"/><line x1="1750.47" y1="265.61" x2="1756.77" y2="265.61" stroke="#2b2b2b" stroke-width="1.6"/><g transform="translate(1766.21,477.1)"><rect x="0.5" y="-89.38" width="11.9" height="89.38" fill="url(#pT)" stroke="#b4b4b8" stroke-width="1.0"/></g><line x1="1772.66" y1="318.44" x2="1772.66" y2="387.22" stroke="#2b2b2b" stroke-width="1.3"/><line x1="1769.51" y1="318.44" x2="1775.81" y2="318.44" stroke="#2b2b2b" stroke-width="1.6"/><g transform="translate(1797.99,477.1)"><rect x="0" y="-180.3" width="12.9" height="180.3" fill="url(#pA)"/><path d="M0.5,-180.3 V0 H12.4 V-180.3" fill="none" stroke="#222" stroke-width="1.0"/></g><g transform="translate(1797.99,267.6)"><rect x="0" y="-5.79" width="12.9" height="5.79" fill="url(#pA)"/><path d="M0.5,0 V-5.29 H12.4 V0" fill="none" stroke="#222" stroke-width="1.0"/></g><line x1="1804.44" y1="259.27" x2="1804.44" y2="261.81" stroke="#2b2b2b" stroke-width="1.3"/><line x1="1801.29" y1="259.27" x2="1807.59" y2="259.27" stroke="#2b2b2b" stroke-width="1.6"/><text x="1803.8" y="261.8" font-size="21.5" font-weight="bold" font-style="normal" text-anchor="middle" >*</text><g transform="translate(1817.03,477.1)"><rect x="0" y="-180.3" width="12.9" height="180.3" fill="url(#pBb)"/><path d="M0.5,-180.3 V0 H12.4 V-180.3" fill="none" stroke="#b0b0b4" stroke-width="1.0"/></g><g transform="translate(1817.03,267.6)"><rect x="0" y="-4.35" width="12.9" height="4.35" fill="url(#pBb)"/><path d="M0.5,0 V-3.85 H12.4 V0" fill="none" stroke="#b0b0b4" stroke-width="1.0"/></g><line x1="1823.48" y1="262.53" x2="1823.48" y2="263.25" stroke="#2b2b2b" stroke-width="1.3"/><line x1="1820.33" y1="262.53" x2="1826.63" y2="262.53" stroke="#2b2b2b" stroke-width="1.6"/><g transform="translate(1836.07,477.1)"><rect x="0" y="-180.3" width="12.9" height="180.3" fill="url(#pCb)"/><path d="M0.6,-180.3 V0 H12.3 V-180.3" fill="none" stroke="#8a8a8a" stroke-width="1.2"/></g><g transform="translate(1836.07,267.6)"><rect x="0" y="-4.35" width="12.9" height="4.35" fill="url(#pCb)"/><path d="M0.6,0 V-3.75 H12.3 V0" fill="none" stroke="#8a8a8a" stroke-width="1.2"/></g><line x1="1842.52" y1="262.17" x2="1842.52" y2="263.25" stroke="#2b2b2b" stroke-width="1.3"/><line x1="1839.37" y1="262.17" x2="1845.67" y2="262.17" stroke="#2b2b2b" stroke-width="1.6"/><g transform="translate(1855.11,477.1)"><rect x="0" y="-180.3" width="12.9" height="180.3" fill="url(#pD)"/><path d="M0.5,-180.3 V0 H12.4 V-180.3" fill="none" stroke="#dedede" stroke-width="1.0"/></g><g transform="translate(1855.11,267.6)"><rect x="0" y="-7.6" width="12.9" height="7.6" fill="url(#pD)"/><path d="M0.5,0 V-7.1 H12.4 V0" fill="none" stroke="#dedede" stroke-width="1.0"/></g><line x1="1861.56" y1="254.74" x2="1861.56" y2="260" stroke="#2b2b2b" stroke-width="1.3"/><line x1="1858.41" y1="254.74" x2="1864.71" y2="254.74" stroke="#2b2b2b" stroke-width="1.6"/><text x="1856.7" y="253.8" font-size="21.5" font-weight="bold" font-style="normal" text-anchor="middle" >*</text><text x="1866.1" y="253.8" font-size="21.5" font-weight="bold" font-style="normal" text-anchor="middle" >*</text><g transform="translate(1874.15,477.1)"><rect x="0" y="-180.3" width="12.9" height="180.3" fill="url(#pE)"/><path d="M0.6,-180.3 V0 H12.3 V-180.3" fill="none" stroke="#6a6a6a" stroke-width="1.2"/></g><g transform="translate(1874.15,267.6)"><rect x="0" y="-3.44" width="12.9" height="3.44" fill="url(#pE)"/><path d="M0.6,0 V-2.84 H12.3 V0" fill="none" stroke="#6a6a6a" stroke-width="1.2"/></g><line x1="1880.6" y1="260.72" x2="1880.6" y2="264.16" stroke="#2b2b2b" stroke-width="1.3"/><line x1="1877.45" y1="260.72" x2="1883.75" y2="260.72" stroke="#2b2b2b" stroke-width="1.6"/><g transform="translate(1893.19,477.1)"><rect x="0" y="-180.3" width="12.9" height="180.3" fill="url(#pT)"/><path d="M0.5,-180.3 V0 H12.4 V-180.3" fill="none" stroke="#b4b4b8" stroke-width="1.0"/></g><line x1="1899.64" y1="267.06" x2="1899.64" y2="267.42" stroke="#2b2b2b" stroke-width="1.3"/><line x1="1896.49" y1="267.06" x2="1902.79" y2="267.06" stroke="#2b2b2b" stroke-width="1.6"/><g transform="translate(1924.97,477.1)"><rect x="0" y="-180.3" width="12.9" height="180.3" fill="url(#pA)"/><path d="M0.5,-180.3 V0 H12.4 V-180.3" fill="none" stroke="#222" stroke-width="1.0"/></g><g transform="translate(1924.97,267.6)"><rect x="0" y="-0.54" width="12.9" height="0.54" fill="url(#pA)"/><path d="M0.5,0 V-0.04 H12.4 V0" fill="none" stroke="#222" stroke-width="1.0"/></g><line x1="1931.42" y1="266.88" x2="1931.42" y2="267.06" stroke="#2b2b2b" stroke-width="1.3"/><line x1="1928.27" y1="266.88" x2="1934.57" y2="266.88" stroke="#2b2b2b" stroke-width="1.6"/><g transform="translate(1944.01,477.1)"><rect x="0" y="-180.3" width="12.9" height="180.3" fill="url(#pBb)"/><path d="M0.5,-180.3 V0 H12.4 V-180.3" fill="none" stroke="#b0b0b4" stroke-width="1.0"/></g><g transform="translate(1944.01,267.6)"><rect x="0" y="-1.45" width="12.9" height="1.45" fill="url(#pBb)"/><path d="M0.5,0 V-0.95 H12.4 V0" fill="none" stroke="#b0b0b4" stroke-width="1.0"/></g><line x1="1950.46" y1="265.25" x2="1950.46" y2="266.15" stroke="#2b2b2b" stroke-width="1.3"/><line x1="1947.31" y1="265.25" x2="1953.61" y2="265.25" stroke="#2b2b2b" stroke-width="1.6"/><g transform="translate(1963.05,477.1)"><rect x="0" y="-180.3" width="12.9" height="180.3" fill="url(#pCb)"/><path d="M0.6,-180.3 V0 H12.3 V-180.3" fill="none" stroke="#8a8a8a" stroke-width="1.2"/></g><g transform="translate(1963.05,267.6)"><rect x="0" y="-2.35" width="12.9" height="2.35" fill="url(#pCb)"/><path d="M0.6,0 V-1.75 H12.3 V0" fill="none" stroke="#8a8a8a" stroke-width="1.2"/></g><line x1="1969.5" y1="264.34" x2="1969.5" y2="265.25" stroke="#2b2b2b" stroke-width="1.3"/><line x1="1966.35" y1="264.34" x2="1972.65" y2="264.34" stroke="#2b2b2b" stroke-width="1.6"/><text x="1970.1" y="266.1" font-size="21.5" font-weight="bold" font-style="normal" text-anchor="middle" >*</text><g transform="translate(1982.09,477.1)"><rect x="0" y="-180.3" width="12.9" height="180.3" fill="url(#pD)"/><path d="M0.5,-180.3 V0 H12.4 V-180.3" fill="none" stroke="#dedede" stroke-width="1.0"/></g><g transform="translate(1982.09,267.6)"><rect x="0" y="-2.35" width="12.9" height="2.35" fill="url(#pD)"/><path d="M0.5,0 V-1.85 H12.4 V0" fill="none" stroke="#dedede" stroke-width="1.0"/></g><line x1="1988.54" y1="263.44" x2="1988.54" y2="265.25" stroke="#2b2b2b" stroke-width="1.3"/><line x1="1985.39" y1="263.44" x2="1991.69" y2="263.44" stroke="#2b2b2b" stroke-width="1.6"/><g transform="translate(2001.13,477.1)"><rect x="0" y="-180.3" width="12.9" height="180.3" fill="url(#pE)"/><path d="M0.6,-180.3 V0 H12.3 V-180.3" fill="none" stroke="#6a6a6a" stroke-width="1.2"/></g><g transform="translate(2001.13,267.6)"><rect x="0" y="-1.45" width="12.9" height="1.45" fill="url(#pE)"/><path d="M0.6,0 V-0.85 H12.3 V0" fill="none" stroke="#6a6a6a" stroke-width="1.2"/></g><line x1="2007.58" y1="265.43" x2="2007.58" y2="266.15" stroke="#2b2b2b" stroke-width="1.3"/><line x1="2004.43" y1="265.43" x2="2010.73" y2="265.43" stroke="#2b2b2b" stroke-width="1.6"/><g transform="translate(2020.17,477.1)"><rect x="0.5" y="-127.51" width="11.9" height="127.51" fill="url(#pT)" stroke="#b4b4b8" stroke-width="1.0"/></g><line x1="2026.62" y1="301.31" x2="2026.62" y2="349.09" stroke="#2b2b2b" stroke-width="1.3"/><line x1="2023.47" y1="301.31" x2="2029.77" y2="301.31" stroke="#2b2b2b" stroke-width="1.6"/><g transform="translate(2051.95,477.1)"><rect x="0" y="-180.3" width="12.9" height="180.3" fill="url(#pA)"/><path d="M0.5,-180.3 V0 H12.4 V-180.3" fill="none" stroke="#222" stroke-width="1.0"/></g><g transform="translate(2051.95,267.6)"><rect x="0" y="-1.09" width="12.9" height="1.09" fill="url(#pA)"/><path d="M0.5,0 V-0.59 H12.4 V0" fill="none" stroke="#222" stroke-width="1.0"/></g><line x1="2058.4" y1="265.79" x2="2058.4" y2="266.51" stroke="#2b2b2b" stroke-width="1.3"/><line x1="2055.25" y1="265.79" x2="2061.55" y2="265.79" stroke="#2b2b2b" stroke-width="1.6"/><g transform="translate(2070.99,477.1)"><rect x="0" y="-180.3" width="12.9" height="180.3" fill="url(#pBb)"/><path d="M0.5,-180.3 V0 H12.4 V-180.3" fill="none" stroke="#b0b0b4" stroke-width="1.0"/></g><g transform="translate(2070.99,267.6)"><rect x="0" y="-0.36" width="12.9" height="0.36" fill="url(#pBb)"/><path d="M0.5,0 V0.14 H12.4 V0" fill="none" stroke="#b0b0b4" stroke-width="1.0"/></g><line x1="2077.44" y1="266.88" x2="2077.44" y2="267.24" stroke="#2b2b2b" stroke-width="1.3"/><line x1="2074.29" y1="266.88" x2="2080.59" y2="266.88" stroke="#2b2b2b" stroke-width="1.6"/><g transform="translate(2090.03,477.1)"><rect x="0" y="-180.3" width="12.9" height="180.3" fill="url(#pCb)"/><path d="M0.6,-180.3 V0 H12.3 V-180.3" fill="none" stroke="#8a8a8a" stroke-width="1.2"/></g><g transform="translate(2090.03,267.6)"><rect x="0" y="-2.35" width="12.9" height="2.35" fill="url(#pCb)"/><path d="M0.6,0 V-1.75 H12.3 V0" fill="none" stroke="#8a8a8a" stroke-width="1.2"/></g><line x1="2096.48" y1="263.44" x2="2096.48" y2="265.25" stroke="#2b2b2b" stroke-width="1.3"/><line x1="2093.33" y1="263.44" x2="2099.63" y2="263.44" stroke="#2b2b2b" stroke-width="1.6"/><g transform="translate(2109.07,477.1)"><rect x="0" y="-180.3" width="12.9" height="180.3" fill="url(#pD)"/><path d="M0.5,-180.3 V0 H12.4 V-180.3" fill="none" stroke="#dedede" stroke-width="1.0"/></g><g transform="translate(2109.07,267.6)"><rect x="0" y="-0.72" width="12.9" height="0.72" fill="url(#pD)"/><path d="M0.5,0 V-0.22 H12.4 V0" fill="none" stroke="#dedede" stroke-width="1.0"/></g><line x1="2115.52" y1="266.15" x2="2115.52" y2="266.88" stroke="#2b2b2b" stroke-width="1.3"/><line x1="2112.37" y1="266.15" x2="2118.67" y2="266.15" stroke="#2b2b2b" stroke-width="1.6"/><g transform="translate(2128.11,477.1)"><rect x="0.6" y="-138.23" width="11.7" height="138.23" fill="url(#pE)" stroke="#6a6a6a" stroke-width="1.2"/></g><line x1="2134.56" y1="296.8" x2="2134.56" y2="338.27" stroke="#2b2b2b" stroke-width="1.3"/><line x1="2134.56" y1="267.24" x2="2134.56" y2="267.6" stroke="#2b2b2b" stroke-width="1.3"/><line x1="2131.41" y1="267.24" x2="2137.71" y2="267.24" stroke="#2b2b2b" stroke-width="1.6"/><g transform="translate(2147.15,477.1)"><rect x="0.5" y="-27.45" width="11.9" height="27.45" fill="url(#pT)" stroke="#b4b4b8" stroke-width="1.0"/></g><line x1="2153.6" y1="423.91" x2="2153.6" y2="449.15" stroke="#2b2b2b" stroke-width="1.3"/><line x1="2150.45" y1="423.91" x2="2156.75" y2="423.91" stroke="#2b2b2b" stroke-width="1.6"/><g transform="translate(2178.93,477.1)"><rect x="0" y="-180.3" width="12.9" height="180.3" fill="url(#pA)"/><path d="M0.5,-180.3 V0 H12.4 V-180.3" fill="none" stroke="#222" stroke-width="1.0"/></g><g transform="translate(2178.93,267.6)"><rect x="0" y="-0.36" width="12.9" height="0.36" fill="url(#pA)"/><path d="M0.5,0 V0.14 H12.4 V0" fill="none" stroke="#222" stroke-width="1.0"/></g><line x1="2185.38" y1="267.06" x2="2185.38" y2="267.24" stroke="#2b2b2b" stroke-width="1.3"/><line x1="2182.23" y1="267.06" x2="2188.53" y2="267.06" stroke="#2b2b2b" stroke-width="1.6"/><text x="2181.3" y="264.2" font-size="21.5" font-weight="bold" font-style="normal" text-anchor="middle" >*</text><text x="2190.7" y="264.2" font-size="21.5" font-weight="bold" font-style="normal" text-anchor="middle" >*</text><g transform="translate(2197.97,477.1)"><rect x="0" y="-180.3" width="12.9" height="180.3" fill="url(#pBb)"/><path d="M0.5,-180.3 V0 H12.4 V-180.3" fill="none" stroke="#b0b0b4" stroke-width="1.0"/></g><line x1="2204.42" y1="267.24" x2="2204.42" y2="267.42" stroke="#2b2b2b" stroke-width="1.3"/><line x1="2201.27" y1="267.24" x2="2207.57" y2="267.24" stroke="#2b2b2b" stroke-width="1.6"/><text x="2202.2" y="268.1" font-size="21.5" font-weight="bold" font-style="normal" text-anchor="middle" >*</text><g transform="translate(2217.01,477.1)"><rect x="0" y="-180.3" width="12.9" height="180.3" fill="url(#pCb)"/><path d="M0.6,-180.3 V0 H12.3 V-180.3" fill="none" stroke="#8a8a8a" stroke-width="1.2"/></g><line x1="2223.46" y1="267.24" x2="2223.46" y2="267.42" stroke="#2b2b2b" stroke-width="1.3"/><line x1="2220.31" y1="267.24" x2="2226.61" y2="267.24" stroke="#2b2b2b" stroke-width="1.6"/><g transform="translate(2236.05,477.1)"><rect x="0" y="-180.3" width="12.9" height="180.3" fill="url(#pD)"/><path d="M0.5,-180.3 V0 H12.4 V-180.3" fill="none" stroke="#dedede" stroke-width="1.0"/></g><line x1="2242.5" y1="267.24" x2="2242.5" y2="267.42" stroke="#2b2b2b" stroke-width="1.3"/><line x1="2239.35" y1="267.24" x2="2245.65" y2="267.24" stroke="#2b2b2b" stroke-width="1.6"/><g transform="translate(2255.09,477.1)"><rect x="0" y="-180.3" width="12.9" height="180.3" fill="url(#pE)"/><path d="M0.6,-180.3 V0 H12.3 V-180.3" fill="none" stroke="#6a6a6a" stroke-width="1.2"/></g><g transform="translate(2255.09,267.6)"><rect x="0" y="-0.36" width="12.9" height="0.36" fill="url(#pE)"/><path d="M0.6,0 V0.24 H12.3 V0" fill="none" stroke="#6a6a6a" stroke-width="1.2"/></g><line x1="2261.54" y1="267.06" x2="2261.54" y2="267.24" stroke="#2b2b2b" stroke-width="1.3"/><line x1="2258.39" y1="267.06" x2="2264.69" y2="267.06" stroke="#2b2b2b" stroke-width="1.6"/><text x="2263.2" y="266.1" font-size="21.5" font-weight="bold" font-style="normal" text-anchor="middle" >*</text><g transform="translate(2274.13,477.1)"><rect x="0.5" y="-35.56" width="11.9" height="35.56" fill="url(#pT)" stroke="#b4b4b8" stroke-width="1.0"/></g><line x1="2280.58" y1="407.68" x2="2280.58" y2="441.04" stroke="#2b2b2b" stroke-width="1.3"/><line x1="2277.43" y1="407.68" x2="2283.73" y2="407.68" stroke="#2b2b2b" stroke-width="1.6"/><rect x="1405.45" y="295" width="3.9" height="184.1" fill="#000"/><rect x="1396.5" y="475.3" width="12.85" height="3.6" fill="#000"/><text x="1392" y="482.7" font-size="21.8" font-weight="bold" font-style="normal" text-anchor="end" >0.00</text><rect x="1396.5" y="430.23" width="12.85" height="3.6" fill="#000"/><text x="1392" y="437.63" font-size="21.8" font-weight="bold" font-style="normal" text-anchor="end" >0.05</text><rect x="1396.5" y="385.15" width="12.85" height="3.6" fill="#000"/><text x="1392" y="392.55" font-size="21.8" font-weight="bold" font-style="normal" text-anchor="end" >0.10</text><rect x="1396.5" y="340.07" width="12.85" height="3.6" fill="#000"/><text x="1392" y="347.48" font-size="21.8" font-weight="bold" font-style="normal" text-anchor="end" >0.15</text><rect x="1396.5" y="295" width="12.85" height="3.6" fill="#000"/><text x="1392" y="302.4" font-size="21.8" font-weight="bold" font-style="normal" text-anchor="end" >0.20</text><rect x="1396.5" y="295" width="21" height="3.6" fill="#000"/><rect x="1405.45" y="85.1" width="3.9" height="184.3" fill="#000"/><rect x="1396.5" y="229.95" width="12.85" height="3.6" fill="#000"/><text x="1392" y="237.35" font-size="21.8" font-weight="bold" font-style="normal" text-anchor="end" >20</text><rect x="1396.5" y="193.74" width="12.85" height="3.6" fill="#000"/><text x="1392" y="201.14" font-size="21.8" font-weight="bold" font-style="normal" text-anchor="end" >40</text><rect x="1396.5" y="157.52" width="12.85" height="3.6" fill="#000"/><text x="1392" y="164.92" font-size="21.8" font-weight="bold" font-style="normal" text-anchor="end" >60</text><rect x="1396.5" y="121.31" width="12.85" height="3.6" fill="#000"/><text x="1392" y="128.71" font-size="21.8" font-weight="bold" font-style="normal" text-anchor="end" >80</text><rect x="1396.5" y="85.1" width="12.85" height="3.6" fill="#000"/><text x="1392" y="92.5" font-size="21.8" font-weight="bold" font-style="normal" text-anchor="end" >100</text><rect x="1396.5" y="265.8" width="21" height="3.6" fill="#000"/><rect x="1405.5" y="475.6" width="892" height="4" fill="#000"/><rect x="1469.2" y="477.6" width="3.8" height="11.4" fill="#000"/><text x="1476.3" y="504" font-size="21.6" font-weight="bold" font-style="italic" text-anchor="end" transform="rotate(-45 1476.3 504)">unidentified</text><rect x="1596.18" y="477.6" width="3.8" height="11.4" fill="#000"/><text x="1603.28" y="504" font-size="21.6" font-weight="bold" font-style="italic" text-anchor="end" transform="rotate(-45 1603.28 504)">Trichoderma</text><rect x="1723.16" y="477.6" width="3.8" height="11.4" fill="#000"/><text x="1730.26" y="504" font-size="21.6" font-weight="bold" font-style="italic" text-anchor="end" transform="rotate(-45 1730.26 504)">Leptodontidium</text><rect x="1850.14" y="477.6" width="3.8" height="11.4" fill="#000"/><text x="1857.24" y="504" font-size="21.6" font-weight="bold" font-style="italic" text-anchor="end" transform="rotate(-45 1857.24 504)">Mortierella</text><rect x="1977.12" y="477.6" width="3.8" height="11.4" fill="#000"/><text x="1984.22" y="504" font-size="21.6" font-weight="bold" font-style="italic" text-anchor="end" transform="rotate(-45 1984.22 504)">Cladophialophora</text><rect x="2104.1" y="477.6" width="3.8" height="11.4" fill="#000"/><text x="2111.2" y="504" font-size="21.6" font-weight="bold" font-style="italic" text-anchor="end" transform="rotate(-45 2111.2 504)">Minimedusa</text><rect x="2231.08" y="477.6" width="3.8" height="11.4" fill="#000"/><text x="2238.18" y="504" font-size="21.6" font-weight="bold" font-style="italic" text-anchor="end" transform="rotate(-45 2238.18 504)">Solicoccozyma</text><text x="1324.7" y="285.1" font-size="22" font-weight="bold" text-anchor="middle" transform="rotate(-90 1324.7 285.1)">Relative abundance (%)</text><text x="1851.8" y="672.8" font-size="22.5" font-weight="bold" font-style="normal" text-anchor="middle" >Fungal genus</text><g transform="translate(2340.1,95.2)"><rect x="0.5" y="0.5" width="40.5" height="13" fill="url(#pA)" stroke="#555" stroke-width="1.0"/></g><text x="2405.9" y="110.69" font-size="26.5" font-weight="normal" font-style="normal" text-anchor="start" >A</text><g transform="translate(2340.1,140.15)"><rect x="0.5" y="0.5" width="40.5" height="13" fill="url(#pBb)" stroke="#b0b0b4" stroke-width="1.0"/></g><text x="2405.9" y="155.64" font-size="26.5" font-weight="normal" font-style="normal" text-anchor="start" >B</text><g transform="translate(2340.1,185.1)"><rect x="0.6" y="0.6" width="40.3" height="12.8" fill="#fff" stroke="#8a8a8a" stroke-width="1.2"/><rect x="1.2" y="9.4" width="39.1" height="1.8" fill="#777"/></g><text x="2405.9" y="200.59" font-size="26.5" font-weight="normal" font-style="normal" text-anchor="start" >C</text><g transform="translate(2340.1,230.05)"><rect x="0.5" y="0.5" width="40.5" height="13" fill="url(#pD)" stroke="#dedede" stroke-width="1.0"/></g><text x="2405.9" y="245.54" font-size="26.5" font-weight="normal" font-style="normal" text-anchor="start" >D</text><g transform="translate(2340.1,275)"><rect x="0.6" y="0.6" width="40.3" height="12.8" fill="url(#pE)" stroke="#6a6a6a" stroke-width="1.2"/></g><text x="2405.9" y="290.49" font-size="26.5" font-weight="normal" font-style="normal" text-anchor="start" >E</text><g transform="translate(2340.1,319.95)"><rect x="0.5" y="0.5" width="40.5" height="13" fill="url(#pT)" stroke="#b4b4b8" stroke-width="1.0"/></g><text x="2405.9" y="335.44" font-size="26.5" font-weight="normal" font-style="normal" text-anchor="start" >BT</text><text x="1272" y="34.4" font-size="44" font-weight="bold" font-style="normal" text-anchor="start" >B</text><g transform="translate(117.05,1214.5)"><rect x="0" y="-148.7" width="7.9" height="148.7" fill="url(#pA)"/><path d="M0.5,-148.7 V0 H7.4 V-148.7" fill="none" stroke="#222" stroke-width="1.0"/></g><g transform="translate(117.05,1053.1)"><rect x="0" y="-15.41" width="7.9" height="15.41" fill="url(#pA)"/><path d="M0.5,0 V-14.91 H7.4 V0" fill="none" stroke="#222" stroke-width="1.0"/></g><line x1="121" y1="1036.85" x2="121" y2="1037.69" stroke="#2b2b2b" stroke-width="1.35"/><line x1="118.9" y1="1036.85" x2="123.1" y2="1036.85" stroke="#2b2b2b" stroke-width="1.5"/><g transform="translate(128.25,1214.5)"><rect x="0" y="-148.7" width="7.9" height="148.7" fill="url(#pBc)"/><path d="M0.5,-148.7 V0 H7.4 V-148.7" fill="none" stroke="#b0b0b4" stroke-width="1.0"/></g><g transform="translate(128.25,1053.1)"><rect x="0" y="-5" width="7.9" height="5" fill="url(#pBc)"/><path d="M0.5,0 V-4.5 H7.4 V0" fill="none" stroke="#b0b0b4" stroke-width="1.0"/></g><line x1="132.2" y1="1046.85" x2="132.2" y2="1048.1" stroke="#2b2b2b" stroke-width="1.35"/><line x1="130.1" y1="1046.85" x2="134.3" y2="1046.85" stroke="#2b2b2b" stroke-width="1.5"/><g transform="translate(139.45,1214.5)"><rect x="0" y="-148.7" width="7.9" height="148.7" fill="url(#pCc)"/><path d="M0.6,-148.7 V0 H7.3 V-148.7" fill="none" stroke="#8a8a8a" stroke-width="1.2"/></g><g transform="translate(139.45,1053.1)"><rect x="0" y="-2.5" width="7.9" height="2.5" fill="url(#pCc)"/><path d="M0.6,0 V-1.9 H7.3 V0" fill="none" stroke="#8a8a8a" stroke-width="1.2"/></g><line x1="143.4" y1="1049.77" x2="143.4" y2="1050.6" stroke="#2b2b2b" stroke-width="1.35"/><line x1="141.3" y1="1049.77" x2="145.5" y2="1049.77" stroke="#2b2b2b" stroke-width="1.5"/><g transform="translate(150.65,1214.5)"><rect x="0" y="-148.7" width="7.9" height="148.7" fill="url(#pD)"/><path d="M0.5,-148.7 V0 H7.4 V-148.7" fill="none" stroke="#dedede" stroke-width="1.0"/></g><g transform="translate(150.65,1053.1)"><rect x="0" y="-11.83" width="7.9" height="11.83" fill="url(#pD)"/><path d="M0.5,0 V-11.33 H7.4 V0" fill="none" stroke="#dedede" stroke-width="1.0"/></g><line x1="154.6" y1="1027.27" x2="154.6" y2="1041.27" stroke="#2b2b2b" stroke-width="1.35"/><line x1="152.5" y1="1027.27" x2="156.7" y2="1027.27" stroke="#2b2b2b" stroke-width="1.5"/><text x="154.6" y="1027.8" font-size="18" font-weight="bold" font-style="normal" text-anchor="middle" >*</text><g transform="translate(161.85,1214.5)"><rect x="0" y="-148.7" width="7.9" height="148.7" fill="url(#pE)"/><path d="M0.6,-148.7 V0 H7.3 V-148.7" fill="none" stroke="#6a6a6a" stroke-width="1.2"/></g><g transform="translate(161.85,1053.1)"><rect x="0" y="-0.58" width="7.9" height="0.58" fill="url(#pE)"/><path d="M0.6,0 V0.02 H7.3 V0" fill="none" stroke="#6a6a6a" stroke-width="1.2"/></g><line x1="165.8" y1="1051.52" x2="165.8" y2="1052.52" stroke="#2b2b2b" stroke-width="1.35"/><line x1="163.7" y1="1051.52" x2="167.9" y2="1051.52" stroke="#2b2b2b" stroke-width="1.5"/><g transform="translate(173.05,1214.5)"><rect x="0" y="-148.7" width="7.9" height="148.7" fill="url(#pT)"/><path d="M0.5,-148.7 V0 H7.4 V-148.7" fill="none" stroke="#b4b4b8" stroke-width="1.0"/></g><g transform="translate(173.05,1053.1)"><rect x="0" y="-18.33" width="7.9" height="18.33" fill="url(#pT)"/><path d="M0.5,0 V-17.83 H7.4 V0" fill="none" stroke="#b4b4b8" stroke-width="1.0"/></g><line x1="177" y1="1022.27" x2="177" y2="1034.77" stroke="#2b2b2b" stroke-width="1.35"/><line x1="174.9" y1="1022.27" x2="179.1" y2="1022.27" stroke="#2b2b2b" stroke-width="1.5"/><g transform="translate(191.39,1214.5)"><rect x="0.5" y="-24.04" width="6.9" height="24.04" fill="url(#pA)" stroke="#222" stroke-width="1.0"/></g><line x1="195.34" y1="1186.25" x2="195.34" y2="1189.96" stroke="#2b2b2b" stroke-width="1.35"/><line x1="193.24" y1="1186.25" x2="197.44" y2="1186.25" stroke="#2b2b2b" stroke-width="1.5"/><g transform="translate(202.59,1214.5)"><rect x="0.5" y="-39.65" width="6.9" height="39.65" fill="url(#pBc)" stroke="#b0b0b4" stroke-width="1.0"/></g><line x1="206.54" y1="1167.66" x2="206.54" y2="1174.35" stroke="#2b2b2b" stroke-width="1.35"/><line x1="204.44" y1="1167.66" x2="208.64" y2="1167.66" stroke="#2b2b2b" stroke-width="1.5"/><g transform="translate(213.79,1214.5)"><rect x="0" y="-148.7" width="7.9" height="148.7" fill="url(#pCc)"/><path d="M0.6,-148.7 V0 H7.3 V-148.7" fill="none" stroke="#8a8a8a" stroke-width="1.2"/></g><g transform="translate(213.79,1053.1)"><rect x="0" y="-3.75" width="7.9" height="3.75" fill="url(#pCc)"/><path d="M0.6,0 V-3.15 H7.3 V0" fill="none" stroke="#8a8a8a" stroke-width="1.2"/></g><line x1="217.74" y1="1040.94" x2="217.74" y2="1049.35" stroke="#2b2b2b" stroke-width="1.35"/><line x1="215.64" y1="1040.94" x2="219.84" y2="1040.94" stroke="#2b2b2b" stroke-width="1.5"/><g transform="translate(224.99,1214.5)"><rect x="0.5" y="-8.42" width="6.9" height="8.42" fill="url(#pD)" stroke="#dedede" stroke-width="1.0"/></g><line x1="228.94" y1="1187.73" x2="228.94" y2="1205.58" stroke="#2b2b2b" stroke-width="1.35"/><line x1="226.84" y1="1187.73" x2="231.04" y2="1187.73" stroke="#2b2b2b" stroke-width="1.5"/><g transform="translate(236.19,1214.5)"><rect x="0.6" y="-19.62" width="6.7" height="19.62" fill="url(#pE)" stroke="#6a6a6a" stroke-width="1.2"/></g><line x1="240.14" y1="1187.73" x2="240.14" y2="1194.28" stroke="#2b2b2b" stroke-width="1.35"/><line x1="238.04" y1="1187.73" x2="242.24" y2="1187.73" stroke="#2b2b2b" stroke-width="1.5"/><g transform="translate(247.39,1214.5)"><rect x="0" y="-148.7" width="7.9" height="148.7" fill="url(#pT)"/><path d="M0.5,-148.7 V0 H7.4 V-148.7" fill="none" stroke="#b4b4b8" stroke-width="1.0"/></g><g transform="translate(247.39,1053.1)"><rect x="0" y="-59.15" width="7.9" height="59.15" fill="url(#pT)"/><path d="M0.5,0 V-58.65 H7.4 V0" fill="none" stroke="#b4b4b8" stroke-width="1.0"/></g><line x1="251.34" y1="905.63" x2="251.34" y2="993.95" stroke="#2b2b2b" stroke-width="1.35"/><line x1="249.24" y1="905.63" x2="253.44" y2="905.63" stroke="#2b2b2b" stroke-width="1.5"/><text x="269.68" y="1216.7" font-size="18" font-weight="bold" font-style="normal" text-anchor="middle" >*</text><g transform="translate(276.93,1214.5)"><rect x="0" y="-148.7" width="7.9" height="148.7" fill="url(#pBc)"/><path d="M0.5,-148.7 V0 H7.4 V-148.7" fill="none" stroke="#b0b0b4" stroke-width="1.0"/></g><g transform="translate(276.93,1053.1)"><rect x="0" y="-4.75" width="7.9" height="4.75" fill="url(#pBc)"/><path d="M0.5,0 V-4.25 H7.4 V0" fill="none" stroke="#b0b0b4" stroke-width="1.0"/></g><line x1="280.88" y1="1038.69" x2="280.88" y2="1048.35" stroke="#2b2b2b" stroke-width="1.35"/><line x1="278.78" y1="1038.69" x2="282.98" y2="1038.69" stroke="#2b2b2b" stroke-width="1.5"/><text x="280.88" y="1040" font-size="18" font-weight="bold" font-style="normal" text-anchor="middle" >*</text><text x="288.18" y="1213.5" font-size="18" font-weight="bold" font-style="normal" text-anchor="middle" >*</text><text x="295.98" y="1213.5" font-size="18" font-weight="bold" font-style="normal" text-anchor="middle" >*</text><line x1="303.28" y1="1209" x2="303.28" y2="1214.5" stroke="#2b2b2b" stroke-width="1.35"/><line x1="301.18" y1="1209" x2="305.38" y2="1209" stroke="#2b2b2b" stroke-width="1.5"/><text x="299.38" y="1205.8" font-size="18" font-weight="bold" font-style="normal" text-anchor="middle" >*</text><text x="307.18" y="1205.8" font-size="18" font-weight="bold" font-style="normal" text-anchor="middle" >*</text><g transform="translate(310.53,1214.5)"><rect x="0.6" y="-15.76" width="6.7" height="15.76" fill="url(#pE)" stroke="#6a6a6a" stroke-width="1.2"/></g><line x1="314.48" y1="1168.4" x2="314.48" y2="1198.14" stroke="#2b2b2b" stroke-width="1.35"/><line x1="312.38" y1="1168.4" x2="316.58" y2="1168.4" stroke="#2b2b2b" stroke-width="1.5"/><text x="310.58" y="1170" font-size="18" font-weight="bold" font-style="normal" text-anchor="middle" >*</text><text x="318.38" y="1170" font-size="18" font-weight="bold" font-style="normal" text-anchor="middle" >*</text><g transform="translate(321.73,1214.5)"><rect x="0" y="-148.7" width="7.9" height="148.7" fill="url(#pT)"/><path d="M0.5,-148.7 V0 H7.4 V-148.7" fill="none" stroke="#b4b4b8" stroke-width="1.0"/></g><g transform="translate(321.73,1053.1)"><rect x="0" y="-15" width="7.9" height="15" fill="url(#pT)"/><path d="M0.5,0 V-14.5 H7.4 V0" fill="none" stroke="#b4b4b8" stroke-width="1.0"/></g><line x1="325.68" y1="1034.44" x2="325.68" y2="1038.1" stroke="#2b2b2b" stroke-width="1.35"/><line x1="323.58" y1="1034.44" x2="327.78" y2="1034.44" stroke="#2b2b2b" stroke-width="1.5"/><g transform="translate(340.07,1214.5)"><rect x="0.5" y="-2.47" width="6.9" height="2.47" fill="url(#pA)" stroke="#222" stroke-width="1.0"/></g><line x1="344.02" y1="1208.85" x2="344.02" y2="1211.53" stroke="#2b2b2b" stroke-width="1.35"/><line x1="341.92" y1="1208.85" x2="346.12" y2="1208.85" stroke="#2b2b2b" stroke-width="1.5"/><text x="340.12" y="1212" font-size="18" font-weight="bold" font-style="normal" text-anchor="middle" >*</text><text x="347.92" y="1212" font-size="18" font-weight="bold" font-style="normal" text-anchor="middle" >*</text><g transform="translate(351.27,1214.5)"><rect x="0" y="-148.7" width="7.9" height="148.7" fill="url(#pBc)"/><path d="M0.5,-148.7 V0 H7.4 V-148.7" fill="none" stroke="#b0b0b4" stroke-width="1.0"/></g><g transform="translate(351.27,1053.1)"><rect x="0" y="-1.58" width="7.9" height="1.58" fill="url(#pBc)"/><path d="M0.5,0 V-1.08 H7.4 V0" fill="none" stroke="#b0b0b4" stroke-width="1.0"/></g><line x1="355.22" y1="1047.35" x2="355.22" y2="1051.52" stroke="#2b2b2b" stroke-width="1.35"/><line x1="353.12" y1="1047.35" x2="357.32" y2="1047.35" stroke="#2b2b2b" stroke-width="1.5"/><text x="351.32" y="1047" font-size="18" font-weight="bold" font-style="normal" text-anchor="middle" >*</text><text x="359.12" y="1047" font-size="18" font-weight="bold" font-style="normal" text-anchor="middle" >*</text><g transform="translate(362.47,1214.5)"><rect x="0.6" y="-20.66" width="6.7" height="20.66" fill="url(#pCc)" stroke="#8a8a8a" stroke-width="1.2"/></g><line x1="366.42" y1="1161.71" x2="366.42" y2="1193.24" stroke="#2b2b2b" stroke-width="1.35"/><line x1="364.32" y1="1161.71" x2="368.52" y2="1161.71" stroke="#2b2b2b" stroke-width="1.5"/><text x="362.52" y="1165.2" font-size="18" font-weight="bold" font-style="normal" text-anchor="middle" >*</text><text x="370.32" y="1165.2" font-size="18" font-weight="bold" font-style="normal" text-anchor="middle" >*</text><g transform="translate(373.67,1214.5)"><rect x="0.5" y="-6.34" width="6.9" height="6.34" fill="url(#pD)" stroke="#dedede" stroke-width="1.0"/></g><line x1="377.62" y1="1195.47" x2="377.62" y2="1207.66" stroke="#2b2b2b" stroke-width="1.35"/><line x1="375.52" y1="1195.47" x2="379.72" y2="1195.47" stroke="#2b2b2b" stroke-width="1.5"/><text x="373.72" y="1194.3" font-size="18" font-weight="bold" font-style="normal" text-anchor="middle" >*</text><text x="381.52" y="1194.3" font-size="18" font-weight="bold" font-style="normal" text-anchor="middle" >*</text><g transform="translate(384.87,1214.5)"><rect x="0.6" y="-59.92" width="6.7" height="59.92" fill="url(#pE)" stroke="#6a6a6a" stroke-width="1.2"/></g><line x1="388.82" y1="1068.77" x2="388.82" y2="1153.98" stroke="#2b2b2b" stroke-width="1.35"/><line x1="386.72" y1="1068.77" x2="390.92" y2="1068.77" stroke="#2b2b2b" stroke-width="1.5"/><text x="384.92" y="1072" font-size="18" font-weight="bold" font-style="normal" text-anchor="middle" >*</text><text x="392.72" y="1072" font-size="18" font-weight="bold" font-style="normal" text-anchor="middle" >*</text><g transform="translate(396.07,1214.5)"><rect x="0" y="-148.7" width="7.9" height="148.7" fill="url(#pT)"/><path d="M0.5,-148.7 V0 H7.4 V-148.7" fill="none" stroke="#b4b4b8" stroke-width="1.0"/></g><g transform="translate(396.07,1053.1)"><rect x="0" y="-17.5" width="7.9" height="17.5" fill="url(#pT)"/><path d="M0.5,0 V-17 H7.4 V0" fill="none" stroke="#b4b4b8" stroke-width="1.0"/></g><line x1="400.02" y1="1026.86" x2="400.02" y2="1035.6" stroke="#2b2b2b" stroke-width="1.35"/><line x1="397.92" y1="1026.86" x2="402.12" y2="1026.86" stroke="#2b2b2b" stroke-width="1.5"/><g transform="translate(414.41,1214.5)"><rect x="0.5" y="-101.06" width="6.9" height="101.06" fill="url(#pA)" stroke="#222" stroke-width="1.0"/></g><line x1="418.36" y1="1065.8" x2="418.36" y2="1112.94" stroke="#2b2b2b" stroke-width="1.35"/><line x1="418.36" y1="1052.93" x2="418.36" y2="1053.1" stroke="#2b2b2b" stroke-width="1.35"/><line x1="416.26" y1="1052.93" x2="420.46" y2="1052.93" stroke="#2b2b2b" stroke-width="1.5"/><text x="414.46" y="1058.6" font-size="18" font-weight="bold" font-style="normal" text-anchor="middle" >*</text><text x="422.26" y="1058.6" font-size="18" font-weight="bold" font-style="normal" text-anchor="middle" >*</text><g transform="translate(425.61,1214.5)"><rect x="0" y="-148.7" width="7.9" height="148.7" fill="url(#pBc)"/><path d="M0.5,-148.7 V0 H7.4 V-148.7" fill="none" stroke="#b0b0b4" stroke-width="1.0"/></g><g transform="translate(425.61,1053.1)"><rect x="0" y="-0.42" width="7.9" height="0.42" fill="url(#pBc)"/><path d="M0.5,0 V0.08 H7.4 V0" fill="none" stroke="#b0b0b4" stroke-width="1.0"/></g><line x1="429.56" y1="1052.27" x2="429.56" y2="1052.68" stroke="#2b2b2b" stroke-width="1.35"/><line x1="427.46" y1="1052.27" x2="431.66" y2="1052.27" stroke="#2b2b2b" stroke-width="1.5"/><text x="425.66" y="1041.6" font-size="18" font-weight="bold" font-style="normal" text-anchor="middle" >*</text><text x="433.46" y="1041.6" font-size="18" font-weight="bold" font-style="normal" text-anchor="middle" >*</text><g transform="translate(436.81,1214.5)"><rect x="0.6" y="-68.55" width="6.7" height="68.55" fill="url(#pCc)" stroke="#8a8a8a" stroke-width="1.2"/></g><line x1="440.76" y1="1065.8" x2="440.76" y2="1145.35" stroke="#2b2b2b" stroke-width="1.35"/><line x1="440.76" y1="1052.93" x2="440.76" y2="1053.1" stroke="#2b2b2b" stroke-width="1.35"/><line x1="438.66" y1="1052.93" x2="442.86" y2="1052.93" stroke="#2b2b2b" stroke-width="1.5"/><text x="436.86" y="1051.2" font-size="18" font-weight="bold" font-style="normal" text-anchor="middle" >*</text><text x="444.66" y="1051.2" font-size="18" font-weight="bold" font-style="normal" text-anchor="middle" >*</text><g transform="translate(448.01,1214.5)"><rect x="0.5" y="-90.65" width="6.9" height="90.65" fill="url(#pD)" stroke="#dedede" stroke-width="1.0"/></g><line x1="451.96" y1="1116.8" x2="451.96" y2="1123.35" stroke="#2b2b2b" stroke-width="1.35"/><line x1="449.86" y1="1116.8" x2="454.06" y2="1116.8" stroke="#2b2b2b" stroke-width="1.5"/><text x="448.06" y="1115.2" font-size="18" font-weight="bold" font-style="normal" text-anchor="middle" >*</text><text x="455.86" y="1115.2" font-size="18" font-weight="bold" font-style="normal" text-anchor="middle" >*</text><g transform="translate(459.21,1214.5)"><rect x="0.6" y="-81.93" width="6.7" height="81.93" fill="url(#pE)" stroke="#6a6a6a" stroke-width="1.2"/></g><line x1="463.16" y1="1076.21" x2="463.16" y2="1131.97" stroke="#2b2b2b" stroke-width="1.35"/><line x1="461.06" y1="1076.21" x2="465.26" y2="1076.21" stroke="#2b2b2b" stroke-width="1.5"/><text x="459.26" y="1076.5" font-size="18" font-weight="bold" font-style="normal" text-anchor="middle" >*</text><text x="467.06" y="1076.5" font-size="18" font-weight="bold" font-style="normal" text-anchor="middle" >*</text><g transform="translate(470.41,1214.5)"><rect x="0" y="-148.7" width="7.9" height="148.7" fill="url(#pT)"/><path d="M0.5,-148.7 V0 H7.4 V-148.7" fill="none" stroke="#b4b4b8" stroke-width="1.0"/></g><g transform="translate(470.41,1053.1)"><rect x="0" y="-12.5" width="7.9" height="12.5" fill="url(#pT)"/><path d="M0.5,0 V-12 H7.4 V0" fill="none" stroke="#b4b4b8" stroke-width="1.0"/></g><line x1="474.36" y1="1032.27" x2="474.36" y2="1040.6" stroke="#2b2b2b" stroke-width="1.35"/><line x1="472.26" y1="1032.27" x2="476.46" y2="1032.27" stroke="#2b2b2b" stroke-width="1.5"/><g transform="translate(488.75,1214.5)"><rect x="0" y="-148.7" width="7.9" height="148.7" fill="url(#pA)"/><path d="M0.5,-148.7 V0 H7.4 V-148.7" fill="none" stroke="#222" stroke-width="1.0"/></g><g transform="translate(488.75,1053.1)"><rect x="0" y="-0.83" width="7.9" height="0.83" fill="url(#pA)"/><path d="M0.5,0 V-0.33 H7.4 V0" fill="none" stroke="#222" stroke-width="1.0"/></g><line x1="492.7" y1="1051.85" x2="492.7" y2="1052.27" stroke="#2b2b2b" stroke-width="1.35"/><line x1="490.6" y1="1051.85" x2="494.8" y2="1051.85" stroke="#2b2b2b" stroke-width="1.5"/><text x="488.8" y="1058.6" font-size="18" font-weight="bold" font-style="normal" text-anchor="middle" >*</text><text x="496.6" y="1058.6" font-size="18" font-weight="bold" font-style="normal" text-anchor="middle" >*</text><g transform="translate(499.95,1214.5)"><rect x="0" y="-148.7" width="7.9" height="148.7" fill="url(#pBc)"/><path d="M0.5,-148.7 V0 H7.4 V-148.7" fill="none" stroke="#b0b0b4" stroke-width="1.0"/></g><g transform="translate(499.95,1053.1)"><rect x="0" y="-1.67" width="7.9" height="1.67" fill="url(#pBc)"/><path d="M0.5,0 V-1.17 H7.4 V0" fill="none" stroke="#b0b0b4" stroke-width="1.0"/></g><line x1="503.9" y1="1050.18" x2="503.9" y2="1051.43" stroke="#2b2b2b" stroke-width="1.35"/><line x1="501.8" y1="1050.18" x2="506" y2="1050.18" stroke="#2b2b2b" stroke-width="1.5"/><text x="500" y="1047.4" font-size="18" font-weight="bold" font-style="normal" text-anchor="middle" >*</text><text x="507.8" y="1047.4" font-size="18" font-weight="bold" font-style="normal" text-anchor="middle" >*</text><g transform="translate(511.15,1214.5)"><rect x="0.6" y="-117.77" width="6.7" height="117.77" fill="url(#pCc)" stroke="#8a8a8a" stroke-width="1.2"/></g><line x1="515.1" y1="1065.8" x2="515.1" y2="1096.13" stroke="#2b2b2b" stroke-width="1.35"/><line x1="515.1" y1="1052.93" x2="515.1" y2="1053.1" stroke="#2b2b2b" stroke-width="1.35"/><line x1="513" y1="1052.93" x2="517.2" y2="1052.93" stroke="#2b2b2b" stroke-width="1.5"/><text x="511.2" y="1057" font-size="18" font-weight="bold" font-style="normal" text-anchor="middle" >*</text><text x="519" y="1057" font-size="18" font-weight="bold" font-style="normal" text-anchor="middle" >*</text><g transform="translate(522.35,1214.5)"><rect x="0" y="-148.7" width="7.9" height="148.7" fill="url(#pD)"/><path d="M0.5,-148.7 V0 H7.4 V-148.7" fill="none" stroke="#dedede" stroke-width="1.0"/></g><g transform="translate(522.35,1053.1)"><rect x="0" y="-0.83" width="7.9" height="0.83" fill="url(#pD)"/><path d="M0.5,0 V-0.33 H7.4 V0" fill="none" stroke="#dedede" stroke-width="1.0"/></g><line x1="526.3" y1="1051.43" x2="526.3" y2="1052.27" stroke="#2b2b2b" stroke-width="1.35"/><line x1="524.2" y1="1051.43" x2="528.4" y2="1051.43" stroke="#2b2b2b" stroke-width="1.5"/><text x="522.4" y="1048.6" font-size="18" font-weight="bold" font-style="normal" text-anchor="middle" >*</text><text x="530.2" y="1048.6" font-size="18" font-weight="bold" font-style="normal" text-anchor="middle" >*</text><g transform="translate(533.55,1214.5)"><rect x="0" y="-148.7" width="7.9" height="148.7" fill="url(#pE)"/><path d="M0.6,-148.7 V0 H7.3 V-148.7" fill="none" stroke="#6a6a6a" stroke-width="1.2"/></g><g transform="translate(533.55,1053.1)"><rect x="0" y="-1.67" width="7.9" height="1.67" fill="url(#pE)"/><path d="M0.6,0 V-1.07 H7.3 V0" fill="none" stroke="#6a6a6a" stroke-width="1.2"/></g><line x1="537.5" y1="1050.18" x2="537.5" y2="1051.43" stroke="#2b2b2b" stroke-width="1.35"/><line x1="535.4" y1="1050.18" x2="539.6" y2="1050.18" stroke="#2b2b2b" stroke-width="1.5"/><text x="533.6" y="1041" font-size="18" font-weight="bold" font-style="normal" text-anchor="middle" >*</text><text x="541.4" y="1041" font-size="18" font-weight="bold" font-style="normal" text-anchor="middle" >*</text><g transform="translate(544.75,1214.5)"><rect x="0" y="-148.7" width="7.9" height="148.7" fill="url(#pT)"/><path d="M0.5,-148.7 V0 H7.4 V-148.7" fill="none" stroke="#b4b4b8" stroke-width="1.0"/></g><g transform="translate(544.75,1053.1)"><rect x="0" y="-10.58" width="7.9" height="10.58" fill="url(#pT)"/><path d="M0.5,0 V-10.08 H7.4 V0" fill="none" stroke="#b4b4b8" stroke-width="1.0"/></g><line x1="548.7" y1="1041.94" x2="548.7" y2="1042.52" stroke="#2b2b2b" stroke-width="1.35"/><line x1="546.6" y1="1041.94" x2="550.8" y2="1041.94" stroke="#2b2b2b" stroke-width="1.5"/><g transform="translate(563.09,1214.5)"><rect x="0.5" y="-28.05" width="6.9" height="28.05" fill="url(#pA)" stroke="#222" stroke-width="1.0"/></g><line x1="567.04" y1="1165.43" x2="567.04" y2="1185.95" stroke="#2b2b2b" stroke-width="1.35"/><line x1="564.94" y1="1165.43" x2="569.14" y2="1165.43" stroke="#2b2b2b" stroke-width="1.5"/><g transform="translate(574.29,1214.5)"><rect x="0" y="-148.7" width="7.9" height="148.7" fill="url(#pBc)"/><path d="M0.5,-148.7 V0 H7.4 V-148.7" fill="none" stroke="#b0b0b4" stroke-width="1.0"/></g><g transform="translate(574.29,1053.1)"><rect x="0" y="-25.83" width="7.9" height="25.83" fill="url(#pBc)"/><path d="M0.5,0 V-25.33 H7.4 V0" fill="none" stroke="#b0b0b4" stroke-width="1.0"/></g><line x1="578.24" y1="979.78" x2="578.24" y2="1027.27" stroke="#2b2b2b" stroke-width="1.35"/><line x1="576.14" y1="979.78" x2="580.34" y2="979.78" stroke="#2b2b2b" stroke-width="1.5"/><g transform="translate(585.49,1214.5)"><rect x="0.6" y="-9.66" width="6.7" height="9.66" fill="url(#pCc)" stroke="#8a8a8a" stroke-width="1.2"/></g><line x1="589.44" y1="1192.94" x2="589.44" y2="1204.24" stroke="#2b2b2b" stroke-width="1.35"/><line x1="587.34" y1="1192.94" x2="591.54" y2="1192.94" stroke="#2b2b2b" stroke-width="1.5"/><g transform="translate(596.69,1214.5)"><rect x="0.5" y="-8.87" width="6.9" height="8.87" fill="url(#pD)" stroke="#dedede" stroke-width="1.0"/></g><line x1="600.64" y1="1193.83" x2="600.64" y2="1205.13" stroke="#2b2b2b" stroke-width="1.35"/><line x1="598.54" y1="1193.83" x2="602.74" y2="1193.83" stroke="#2b2b2b" stroke-width="1.5"/><g transform="translate(607.89,1214.5)"><rect x="0.6" y="-89.36" width="6.7" height="89.36" fill="url(#pE)" stroke="#6a6a6a" stroke-width="1.2"/></g><line x1="611.84" y1="1065.8" x2="611.84" y2="1124.54" stroke="#2b2b2b" stroke-width="1.35"/><line x1="611.84" y1="1052.93" x2="611.84" y2="1053.1" stroke="#2b2b2b" stroke-width="1.35"/><line x1="609.74" y1="1052.93" x2="613.94" y2="1052.93" stroke="#2b2b2b" stroke-width="1.5"/><g transform="translate(619.09,1214.5)"><rect x="0" y="-148.7" width="7.9" height="148.7" fill="url(#pT)"/><path d="M0.5,-148.7 V0 H7.4 V-148.7" fill="none" stroke="#b4b4b8" stroke-width="1.0"/></g><g transform="translate(619.09,1053.1)"><rect x="0" y="-35.41" width="7.9" height="35.41" fill="url(#pT)"/><path d="M0.5,0 V-34.91 H7.4 V0" fill="none" stroke="#b4b4b8" stroke-width="1.0"/></g><line x1="623.04" y1="995.61" x2="623.04" y2="1017.69" stroke="#2b2b2b" stroke-width="1.35"/><line x1="620.94" y1="995.61" x2="625.14" y2="995.61" stroke="#2b2b2b" stroke-width="1.5"/><g transform="translate(637.43,1214.5)"><rect x="0" y="-148.7" width="7.9" height="148.7" fill="url(#pA)"/><path d="M0.5,-148.7 V0 H7.4 V-148.7" fill="none" stroke="#222" stroke-width="1.0"/></g><g transform="translate(637.43,1053.1)"><rect x="0" y="-1.25" width="7.9" height="1.25" fill="url(#pA)"/><path d="M0.5,0 V-0.75 H7.4 V0" fill="none" stroke="#222" stroke-width="1.0"/></g><line x1="641.38" y1="1051.43" x2="641.38" y2="1051.85" stroke="#2b2b2b" stroke-width="1.35"/><line x1="639.28" y1="1051.43" x2="643.48" y2="1051.43" stroke="#2b2b2b" stroke-width="1.5"/><text x="637.48" y="1051.5" font-size="18" font-weight="bold" font-style="normal" text-anchor="middle" >*</text><text x="645.28" y="1051.5" font-size="18" font-weight="bold" font-style="normal" text-anchor="middle" >*</text><g transform="translate(648.63,1214.5)"><rect x="0" y="-148.7" width="7.9" height="148.7" fill="url(#pBc)"/><path d="M0.5,-148.7 V0 H7.4 V-148.7" fill="none" stroke="#b0b0b4" stroke-width="1.0"/></g><g transform="translate(648.63,1053.1)"><rect x="0" y="-1.67" width="7.9" height="1.67" fill="url(#pBc)"/><path d="M0.5,0 V-1.17 H7.4 V0" fill="none" stroke="#b0b0b4" stroke-width="1.0"/></g><line x1="652.58" y1="1048.93" x2="652.58" y2="1051.43" stroke="#2b2b2b" stroke-width="1.35"/><line x1="650.48" y1="1048.93" x2="654.68" y2="1048.93" stroke="#2b2b2b" stroke-width="1.5"/><text x="648.68" y="1042.2" font-size="18" font-weight="bold" font-style="normal" text-anchor="middle" >*</text><text x="656.48" y="1042.2" font-size="18" font-weight="bold" font-style="normal" text-anchor="middle" >*</text><g transform="translate(659.83,1214.5)"><rect x="0.6" y="-110.93" width="6.7" height="110.93" fill="url(#pCc)" stroke="#8a8a8a" stroke-width="1.2"/></g><line x1="663.78" y1="1065.8" x2="663.78" y2="1102.97" stroke="#2b2b2b" stroke-width="1.35"/><line x1="663.78" y1="1052.93" x2="663.78" y2="1053.1" stroke="#2b2b2b" stroke-width="1.35"/><line x1="661.68" y1="1052.93" x2="665.88" y2="1052.93" stroke="#2b2b2b" stroke-width="1.5"/><text x="659.88" y="1055" font-size="18" font-weight="bold" font-style="normal" text-anchor="middle" >*</text><text x="667.68" y="1055" font-size="18" font-weight="bold" font-style="normal" text-anchor="middle" >*</text><g transform="translate(671.03,1214.5)"><rect x="0.5" y="-88.72" width="6.9" height="88.72" fill="url(#pD)" stroke="#dedede" stroke-width="1.0"/></g><line x1="674.98" y1="1105.95" x2="674.98" y2="1125.28" stroke="#2b2b2b" stroke-width="1.35"/><line x1="672.88" y1="1105.95" x2="677.08" y2="1105.95" stroke="#2b2b2b" stroke-width="1.5"/><text x="671.08" y="1104.7" font-size="18" font-weight="bold" font-style="normal" text-anchor="middle" >*</text><text x="678.88" y="1104.7" font-size="18" font-weight="bold" font-style="normal" text-anchor="middle" >*</text><g transform="translate(682.23,1214.5)"><rect x="0" y="-148.7" width="7.9" height="148.7" fill="url(#pE)"/><path d="M0.6,-148.7 V0 H7.3 V-148.7" fill="none" stroke="#6a6a6a" stroke-width="1.2"/></g><g transform="translate(682.23,1053.1)"><rect x="0" y="-2.5" width="7.9" height="2.5" fill="url(#pE)"/><path d="M0.6,0 V-1.9 H7.3 V0" fill="none" stroke="#6a6a6a" stroke-width="1.2"/></g><line x1="686.18" y1="1050.18" x2="686.18" y2="1050.6" stroke="#2b2b2b" stroke-width="1.35"/><line x1="684.08" y1="1050.18" x2="688.28" y2="1050.18" stroke="#2b2b2b" stroke-width="1.5"/><text x="682.28" y="1050" font-size="18" font-weight="bold" font-style="normal" text-anchor="middle" >*</text><text x="690.08" y="1050" font-size="18" font-weight="bold" font-style="normal" text-anchor="middle" >*</text><g transform="translate(693.43,1214.5)"><rect x="0" y="-148.7" width="7.9" height="148.7" fill="url(#pT)"/><path d="M0.5,-148.7 V0 H7.4 V-148.7" fill="none" stroke="#b4b4b8" stroke-width="1.0"/></g><g transform="translate(693.43,1053.1)"><rect x="0" y="-55.82" width="7.9" height="55.82" fill="url(#pT)"/><path d="M0.5,0 V-55.32 H7.4 V0" fill="none" stroke="#b4b4b8" stroke-width="1.0"/></g><line x1="697.38" y1="964.78" x2="697.38" y2="997.28" stroke="#2b2b2b" stroke-width="1.35"/><line x1="695.28" y1="964.78" x2="699.48" y2="964.78" stroke="#2b2b2b" stroke-width="1.5"/><g transform="translate(711.77,1214.5)"><rect x="0.5" y="-28.65" width="6.9" height="28.65" fill="url(#pA)" stroke="#222" stroke-width="1.0"/></g><line x1="715.72" y1="1155.47" x2="715.72" y2="1185.35" stroke="#2b2b2b" stroke-width="1.35"/><line x1="713.62" y1="1155.47" x2="717.82" y2="1155.47" stroke="#2b2b2b" stroke-width="1.5"/><text x="711.82" y="1155" font-size="18" font-weight="bold" font-style="normal" text-anchor="middle" >*</text><text x="719.62" y="1155" font-size="18" font-weight="bold" font-style="normal" text-anchor="middle" >*</text><g transform="translate(722.97,1214.5)"><rect x="0.5" y="-106.56" width="6.9" height="106.56" fill="url(#pBc)" stroke="#b0b0b4" stroke-width="1.0"/></g><line x1="726.92" y1="1065.8" x2="726.92" y2="1107.44" stroke="#2b2b2b" stroke-width="1.35"/><line x1="726.92" y1="1052.68" x2="726.92" y2="1053.1" stroke="#2b2b2b" stroke-width="1.35"/><line x1="724.82" y1="1052.68" x2="729.02" y2="1052.68" stroke="#2b2b2b" stroke-width="1.5"/><text x="723.02" y="1051.2" font-size="18" font-weight="bold" font-style="normal" text-anchor="middle" >*</text><text x="730.82" y="1051.2" font-size="18" font-weight="bold" font-style="normal" text-anchor="middle" >*</text><g transform="translate(734.17,1214.5)"><rect x="0.6" y="-4.6" width="6.7" height="4.6" fill="url(#pCc)" stroke="#8a8a8a" stroke-width="1.2"/></g><line x1="738.12" y1="1204.69" x2="738.12" y2="1209.3" stroke="#2b2b2b" stroke-width="1.35"/><line x1="736.02" y1="1204.69" x2="740.22" y2="1204.69" stroke="#2b2b2b" stroke-width="1.5"/><text x="734.22" y="1206" font-size="18" font-weight="bold" font-style="normal" text-anchor="middle" >*</text><text x="742.02" y="1206" font-size="18" font-weight="bold" font-style="normal" text-anchor="middle" >*</text><g transform="translate(745.37,1214.5)"><rect x="0.5" y="-20.47" width="6.9" height="20.47" fill="url(#pD)" stroke="#dedede" stroke-width="1.0"/></g><line x1="749.32" y1="1172.27" x2="749.32" y2="1193.53" stroke="#2b2b2b" stroke-width="1.35"/><line x1="747.22" y1="1172.27" x2="751.42" y2="1172.27" stroke="#2b2b2b" stroke-width="1.5"/><text x="745.42" y="1174.8" font-size="18" font-weight="bold" font-style="normal" text-anchor="middle" >*</text><text x="753.22" y="1174.8" font-size="18" font-weight="bold" font-style="normal" text-anchor="middle" >*</text><g transform="translate(756.57,1214.5)"><rect x="0.6" y="-53.68" width="6.7" height="53.68" fill="url(#pE)" stroke="#6a6a6a" stroke-width="1.2"/></g><line x1="760.52" y1="1100" x2="760.52" y2="1160.22" stroke="#2b2b2b" stroke-width="1.35"/><line x1="758.42" y1="1100" x2="762.62" y2="1100" stroke="#2b2b2b" stroke-width="1.5"/><text x="756.62" y="1100" font-size="18" font-weight="bold" font-style="normal" text-anchor="middle" >*</text><text x="764.42" y="1100" font-size="18" font-weight="bold" font-style="normal" text-anchor="middle" >*</text><g transform="translate(767.77,1214.5)"><rect x="0" y="-148.7" width="7.9" height="148.7" fill="url(#pT)"/><path d="M0.5,-148.7 V0 H7.4 V-148.7" fill="none" stroke="#b4b4b8" stroke-width="1.0"/></g><g transform="translate(767.77,1053.1)"><rect x="0" y="-10" width="7.9" height="10" fill="url(#pT)"/><path d="M0.5,0 V-9.5 H7.4 V0" fill="none" stroke="#b4b4b8" stroke-width="1.0"/></g><line x1="771.72" y1="1035.6" x2="771.72" y2="1043.1" stroke="#2b2b2b" stroke-width="1.35"/><line x1="769.62" y1="1035.6" x2="773.82" y2="1035.6" stroke="#2b2b2b" stroke-width="1.5"/><text x="767.82" y="1036.2" font-size="18" font-weight="bold" font-style="normal" text-anchor="middle" >*</text><text x="775.62" y="1036.2" font-size="18" font-weight="bold" font-style="normal" text-anchor="middle" >*</text><g transform="translate(786.11,1214.5)"><rect x="0.5" y="-63.59" width="6.9" height="63.59" fill="url(#pA)" stroke="#222" stroke-width="1.0"/></g><line x1="790.06" y1="1089.74" x2="790.06" y2="1150.41" stroke="#2b2b2b" stroke-width="1.35"/><line x1="787.96" y1="1089.74" x2="792.16" y2="1089.74" stroke="#2b2b2b" stroke-width="1.5"/><text x="786.16" y="1091.8" font-size="18" font-weight="bold" font-style="normal" text-anchor="middle" >*</text><text x="793.96" y="1091.8" font-size="18" font-weight="bold" font-style="normal" text-anchor="middle" >*</text><g transform="translate(797.31,1214.5)"><rect x="0" y="-148.7" width="7.9" height="148.7" fill="url(#pBc)"/><path d="M0.5,-148.7 V0 H7.4 V-148.7" fill="none" stroke="#b0b0b4" stroke-width="1.0"/></g><g transform="translate(797.31,1053.1)"><rect x="0" y="-1.42" width="7.9" height="1.42" fill="url(#pBc)"/><path d="M0.5,0 V-0.92 H7.4 V0" fill="none" stroke="#b0b0b4" stroke-width="1.0"/></g><line x1="801.26" y1="1046.85" x2="801.26" y2="1051.68" stroke="#2b2b2b" stroke-width="1.35"/><line x1="799.16" y1="1046.85" x2="803.36" y2="1046.85" stroke="#2b2b2b" stroke-width="1.5"/><text x="797.36" y="1047.4" font-size="18" font-weight="bold" font-style="normal" text-anchor="middle" >*</text><text x="805.16" y="1047.4" font-size="18" font-weight="bold" font-style="normal" text-anchor="middle" >*</text><g transform="translate(808.51,1214.5)"><rect x="0.6" y="-51.89" width="6.7" height="51.89" fill="url(#pCc)" stroke="#8a8a8a" stroke-width="1.2"/></g><line x1="812.46" y1="1144.46" x2="812.46" y2="1162.01" stroke="#2b2b2b" stroke-width="1.35"/><line x1="810.36" y1="1144.46" x2="814.56" y2="1144.46" stroke="#2b2b2b" stroke-width="1.5"/><text x="808.56" y="1144.2" font-size="18" font-weight="bold" font-style="normal" text-anchor="middle" >*</text><text x="816.36" y="1144.2" font-size="18" font-weight="bold" font-style="normal" text-anchor="middle" >*</text><g transform="translate(819.71,1214.5)"><rect x="0.5" y="-77.57" width="6.9" height="77.57" fill="url(#pD)" stroke="#dedede" stroke-width="1.0"/></g><line x1="823.66" y1="1065.8" x2="823.66" y2="1136.43" stroke="#2b2b2b" stroke-width="1.35"/><line x1="823.66" y1="1052.93" x2="823.66" y2="1053.1" stroke="#2b2b2b" stroke-width="1.35"/><line x1="821.56" y1="1052.93" x2="825.76" y2="1052.93" stroke="#2b2b2b" stroke-width="1.5"/><text x="819.76" y="1054.4" font-size="18" font-weight="bold" font-style="normal" text-anchor="middle" >*</text><text x="827.56" y="1054.4" font-size="18" font-weight="bold" font-style="normal" text-anchor="middle" >*</text><g transform="translate(830.91,1214.5)"><rect x="0" y="-148.7" width="7.9" height="148.7" fill="url(#pE)"/><path d="M0.6,-148.7 V0 H7.3 V-148.7" fill="none" stroke="#6a6a6a" stroke-width="1.2"/></g><g transform="translate(830.91,1053.1)"><rect x="0" y="-2.5" width="7.9" height="2.5" fill="url(#pE)"/><path d="M0.6,0 V-1.9 H7.3 V0" fill="none" stroke="#6a6a6a" stroke-width="1.2"/></g><line x1="834.86" y1="1047.27" x2="834.86" y2="1050.6" stroke="#2b2b2b" stroke-width="1.35"/><line x1="832.76" y1="1047.27" x2="836.96" y2="1047.27" stroke="#2b2b2b" stroke-width="1.5"/><text x="830.96" y="1038.4" font-size="18" font-weight="bold" font-style="normal" text-anchor="middle" >*</text><text x="838.76" y="1038.4" font-size="18" font-weight="bold" font-style="normal" text-anchor="middle" >*</text><g transform="translate(842.11,1214.5)"><rect x="0" y="-148.7" width="7.9" height="148.7" fill="url(#pT)"/><path d="M0.5,-148.7 V0 H7.4 V-148.7" fill="none" stroke="#b4b4b8" stroke-width="1.0"/></g><g transform="translate(842.11,1053.1)"><rect x="0" y="-48.32" width="7.9" height="48.32" fill="url(#pT)"/><path d="M0.5,0 V-47.82 H7.4 V0" fill="none" stroke="#b4b4b8" stroke-width="1.0"/></g><line x1="846.06" y1="974.78" x2="846.06" y2="1004.78" stroke="#2b2b2b" stroke-width="1.35"/><line x1="843.96" y1="974.78" x2="848.16" y2="974.78" stroke="#2b2b2b" stroke-width="1.5"/><g transform="translate(860.45,1214.5)"><rect x="0.5" y="-8.87" width="6.9" height="8.87" fill="url(#pA)" stroke="#222" stroke-width="1.0"/></g><line x1="864.4" y1="1191.75" x2="864.4" y2="1205.13" stroke="#2b2b2b" stroke-width="1.35"/><line x1="862.3" y1="1191.75" x2="866.5" y2="1191.75" stroke="#2b2b2b" stroke-width="1.5"/><g transform="translate(871.65,1214.5)"><rect x="0.5" y="-5.3" width="6.9" height="5.3" fill="url(#pBc)" stroke="#b0b0b4" stroke-width="1.0"/></g><line x1="875.6" y1="1201.12" x2="875.6" y2="1208.7" stroke="#2b2b2b" stroke-width="1.35"/><line x1="873.5" y1="1201.12" x2="877.7" y2="1201.12" stroke="#2b2b2b" stroke-width="1.5"/><g transform="translate(882.85,1214.5)"><rect x="0.6" y="-5.2" width="6.7" height="5.2" fill="url(#pCc)" stroke="#8a8a8a" stroke-width="1.2"/></g><line x1="886.8" y1="1198.14" x2="886.8" y2="1208.7" stroke="#2b2b2b" stroke-width="1.35"/><line x1="884.7" y1="1198.14" x2="888.9" y2="1198.14" stroke="#2b2b2b" stroke-width="1.5"/><g transform="translate(894.05,1214.5)"><rect x="0.5" y="-13.33" width="6.9" height="13.33" fill="url(#pD)" stroke="#dedede" stroke-width="1.0"/></g><line x1="898" y1="1175.84" x2="898" y2="1200.67" stroke="#2b2b2b" stroke-width="1.35"/><line x1="895.9" y1="1175.84" x2="900.1" y2="1175.84" stroke="#2b2b2b" stroke-width="1.5"/><g transform="translate(905.25,1214.5)"><rect x="0.6" y="-9.21" width="6.7" height="9.21" fill="url(#pE)" stroke="#6a6a6a" stroke-width="1.2"/></g><line x1="909.2" y1="1185.06" x2="909.2" y2="1204.69" stroke="#2b2b2b" stroke-width="1.35"/><line x1="907.1" y1="1185.06" x2="911.3" y2="1185.06" stroke="#2b2b2b" stroke-width="1.5"/><g transform="translate(916.45,1214.5)"><rect x="0" y="-148.7" width="7.9" height="148.7" fill="url(#pT)"/><path d="M0.5,-148.7 V0 H7.4 V-148.7" fill="none" stroke="#b4b4b8" stroke-width="1.0"/></g><g transform="translate(916.45,1053.1)"><rect x="0" y="-12.5" width="7.9" height="12.5" fill="url(#pT)"/><path d="M0.5,0 V-12 H7.4 V0" fill="none" stroke="#b4b4b8" stroke-width="1.0"/></g><line x1="920.4" y1="1018.11" x2="920.4" y2="1040.6" stroke="#2b2b2b" stroke-width="1.35"/><line x1="918.3" y1="1018.11" x2="922.5" y2="1018.11" stroke="#2b2b2b" stroke-width="1.5"/><g transform="translate(934.79,1214.5)"><rect x="0" y="-148.7" width="7.9" height="148.7" fill="url(#pA)"/><path d="M0.5,-148.7 V0 H7.4 V-148.7" fill="none" stroke="#222" stroke-width="1.0"/></g><g transform="translate(934.79,1053.1)"><rect x="0" y="-10.41" width="7.9" height="10.41" fill="url(#pA)"/><path d="M0.5,0 V-9.91 H7.4 V0" fill="none" stroke="#222" stroke-width="1.0"/></g><line x1="938.74" y1="1037.69" x2="938.74" y2="1042.69" stroke="#2b2b2b" stroke-width="1.35"/><line x1="936.64" y1="1037.69" x2="940.84" y2="1037.69" stroke="#2b2b2b" stroke-width="1.5"/><g transform="translate(945.99,1214.5)"><rect x="0" y="-148.7" width="7.9" height="148.7" fill="url(#pBc)"/><path d="M0.5,-148.7 V0 H7.4 V-148.7" fill="none" stroke="#b0b0b4" stroke-width="1.0"/></g><g transform="translate(945.99,1053.1)"><rect x="0" y="-13.16" width="7.9" height="13.16" fill="url(#pBc)"/><path d="M0.5,0 V-12.66 H7.4 V0" fill="none" stroke="#b0b0b4" stroke-width="1.0"/></g><line x1="949.94" y1="1031.44" x2="949.94" y2="1039.94" stroke="#2b2b2b" stroke-width="1.35"/><line x1="947.84" y1="1031.44" x2="952.04" y2="1031.44" stroke="#2b2b2b" stroke-width="1.5"/><g transform="translate(957.19,1214.5)"><rect x="0" y="-148.7" width="7.9" height="148.7" fill="url(#pCc)"/><path d="M0.6,-148.7 V0 H7.3 V-148.7" fill="none" stroke="#8a8a8a" stroke-width="1.2"/></g><g transform="translate(957.19,1053.1)"><rect x="0" y="-11.25" width="7.9" height="11.25" fill="url(#pCc)"/><path d="M0.6,0 V-10.65 H7.3 V0" fill="none" stroke="#8a8a8a" stroke-width="1.2"/></g><line x1="961.14" y1="1037.27" x2="961.14" y2="1041.85" stroke="#2b2b2b" stroke-width="1.35"/><line x1="959.04" y1="1037.27" x2="963.24" y2="1037.27" stroke="#2b2b2b" stroke-width="1.5"/><g transform="translate(968.39,1214.5)"><rect x="0" y="-148.7" width="7.9" height="148.7" fill="url(#pD)"/><path d="M0.5,-148.7 V0 H7.4 V-148.7" fill="none" stroke="#dedede" stroke-width="1.0"/></g><g transform="translate(968.39,1053.1)"><rect x="0" y="-10" width="7.9" height="10" fill="url(#pD)"/><path d="M0.5,0 V-9.5 H7.4 V0" fill="none" stroke="#dedede" stroke-width="1.0"/></g><line x1="972.34" y1="1040.6" x2="972.34" y2="1043.1" stroke="#2b2b2b" stroke-width="1.35"/><line x1="970.24" y1="1040.6" x2="974.44" y2="1040.6" stroke="#2b2b2b" stroke-width="1.5"/><g transform="translate(979.59,1214.5)"><rect x="0" y="-148.7" width="7.9" height="148.7" fill="url(#pE)"/><path d="M0.6,-148.7 V0 H7.3 V-148.7" fill="none" stroke="#6a6a6a" stroke-width="1.2"/></g><g transform="translate(979.59,1053.1)"><rect x="0" y="-11.25" width="7.9" height="11.25" fill="url(#pE)"/><path d="M0.6,0 V-10.65 H7.3 V0" fill="none" stroke="#6a6a6a" stroke-width="1.2"/></g><line x1="983.54" y1="1037.27" x2="983.54" y2="1041.85" stroke="#2b2b2b" stroke-width="1.35"/><line x1="981.44" y1="1037.27" x2="985.64" y2="1037.27" stroke="#2b2b2b" stroke-width="1.5"/><g transform="translate(990.79,1214.5)"><rect x="0" y="-148.7" width="7.9" height="148.7" fill="url(#pT)"/><path d="M0.5,-148.7 V0 H7.4 V-148.7" fill="none" stroke="#b4b4b8" stroke-width="1.0"/></g><g transform="translate(990.79,1053.1)"><rect x="0" y="-16.66" width="7.9" height="16.66" fill="url(#pT)"/><path d="M0.5,0 V-16.16 H7.4 V0" fill="none" stroke="#b4b4b8" stroke-width="1.0"/></g><line x1="994.74" y1="1023.94" x2="994.74" y2="1036.44" stroke="#2b2b2b" stroke-width="1.35"/><line x1="992.64" y1="1023.94" x2="996.84" y2="1023.94" stroke="#2b2b2b" stroke-width="1.5"/><g transform="translate(1009.13,1214.5)"><rect x="0" y="-148.7" width="7.9" height="148.7" fill="url(#pA)"/><path d="M0.5,-148.7 V0 H7.4 V-148.7" fill="none" stroke="#222" stroke-width="1.0"/></g><g transform="translate(1009.13,1053.1)"><rect x="0" y="-31.99" width="7.9" height="31.99" fill="url(#pA)"/><path d="M0.5,0 V-31.49 H7.4 V0" fill="none" stroke="#222" stroke-width="1.0"/></g><line x1="1013.08" y1="1011.19" x2="1013.08" y2="1021.11" stroke="#2b2b2b" stroke-width="1.35"/><line x1="1010.98" y1="1011.19" x2="1015.18" y2="1011.19" stroke="#2b2b2b" stroke-width="1.5"/><g transform="translate(1020.33,1214.5)"><rect x="0" y="-148.7" width="7.9" height="148.7" fill="url(#pBc)"/><path d="M0.5,-148.7 V0 H7.4 V-148.7" fill="none" stroke="#b0b0b4" stroke-width="1.0"/></g><g transform="translate(1020.33,1053.1)"><rect x="0" y="-23.5" width="7.9" height="23.5" fill="url(#pBc)"/><path d="M0.5,0 V-23 H7.4 V0" fill="none" stroke="#b0b0b4" stroke-width="1.0"/></g><line x1="1024.28" y1="1013.44" x2="1024.28" y2="1029.6" stroke="#2b2b2b" stroke-width="1.35"/><line x1="1022.18" y1="1013.44" x2="1026.38" y2="1013.44" stroke="#2b2b2b" stroke-width="1.5"/><g transform="translate(1031.53,1214.5)"><rect x="0" y="-148.7" width="7.9" height="148.7" fill="url(#pCc)"/><path d="M0.6,-148.7 V0 H7.3 V-148.7" fill="none" stroke="#8a8a8a" stroke-width="1.2"/></g><g transform="translate(1031.53,1053.1)"><rect x="0" y="-18.83" width="7.9" height="18.83" fill="url(#pCc)"/><path d="M0.6,0 V-18.23 H7.3 V0" fill="none" stroke="#8a8a8a" stroke-width="1.2"/></g><line x1="1035.48" y1="1029.6" x2="1035.48" y2="1034.27" stroke="#2b2b2b" stroke-width="1.35"/><line x1="1033.38" y1="1029.6" x2="1037.58" y2="1029.6" stroke="#2b2b2b" stroke-width="1.5"/><g transform="translate(1042.73,1214.5)"><rect x="0" y="-148.7" width="7.9" height="148.7" fill="url(#pD)"/><path d="M0.5,-148.7 V0 H7.4 V-148.7" fill="none" stroke="#dedede" stroke-width="1.0"/></g><g transform="translate(1042.73,1053.1)"><rect x="0" y="-27.91" width="7.9" height="27.91" fill="url(#pD)"/><path d="M0.5,0 V-27.41 H7.4 V0" fill="none" stroke="#dedede" stroke-width="1.0"/></g><line x1="1046.68" y1="1023.44" x2="1046.68" y2="1025.19" stroke="#2b2b2b" stroke-width="1.35"/><line x1="1044.58" y1="1023.44" x2="1048.78" y2="1023.44" stroke="#2b2b2b" stroke-width="1.5"/><g transform="translate(1053.93,1214.5)"><rect x="0" y="-148.7" width="7.9" height="148.7" fill="url(#pE)"/><path d="M0.6,-148.7 V0 H7.3 V-148.7" fill="none" stroke="#6a6a6a" stroke-width="1.2"/></g><g transform="translate(1053.93,1053.1)"><rect x="0" y="-24.5" width="7.9" height="24.5" fill="url(#pE)"/><path d="M0.6,0 V-23.9 H7.3 V0" fill="none" stroke="#6a6a6a" stroke-width="1.2"/></g><line x1="1057.88" y1="1022.19" x2="1057.88" y2="1028.6" stroke="#2b2b2b" stroke-width="1.35"/><line x1="1055.78" y1="1022.19" x2="1059.98" y2="1022.19" stroke="#2b2b2b" stroke-width="1.5"/><g transform="translate(1065.13,1214.5)"><rect x="0" y="-148.7" width="7.9" height="148.7" fill="url(#pT)"/><path d="M0.5,-148.7 V0 H7.4 V-148.7" fill="none" stroke="#b4b4b8" stroke-width="1.0"/></g><g transform="translate(1065.13,1053.1)"><rect x="0" y="-43.07" width="7.9" height="43.07" fill="url(#pT)"/><path d="M0.5,0 V-42.57 H7.4 V0" fill="none" stroke="#b4b4b8" stroke-width="1.0"/></g><line x1="1069.08" y1="974.78" x2="1069.08" y2="1010.03" stroke="#2b2b2b" stroke-width="1.35"/><line x1="1066.98" y1="974.78" x2="1071.18" y2="974.78" stroke="#2b2b2b" stroke-width="1.5"/><g transform="translate(1083.47,1214.5)"><rect x="0.5" y="-8.87" width="6.9" height="8.87" fill="url(#pA)" stroke="#222" stroke-width="1.0"/></g><line x1="1087.42" y1="1196.66" x2="1087.42" y2="1205.13" stroke="#2b2b2b" stroke-width="1.35"/><line x1="1085.32" y1="1196.66" x2="1089.52" y2="1196.66" stroke="#2b2b2b" stroke-width="1.5"/><text x="1083.52" y="1194" font-size="18" font-weight="bold" font-style="normal" text-anchor="middle" >*</text><text x="1091.32" y="1194" font-size="18" font-weight="bold" font-style="normal" text-anchor="middle" >*</text><g transform="translate(1094.67,1214.5)"><rect x="0" y="-148.7" width="7.9" height="148.7" fill="url(#pBc)"/><path d="M0.5,-148.7 V0 H7.4 V-148.7" fill="none" stroke="#b0b0b4" stroke-width="1.0"/></g><g transform="translate(1094.67,1053.1)"><rect x="0" y="-5.25" width="7.9" height="5.25" fill="url(#pBc)"/><path d="M0.5,0 V-4.75 H7.4 V0" fill="none" stroke="#b0b0b4" stroke-width="1.0"/></g><line x1="1098.62" y1="1037.85" x2="1098.62" y2="1047.85" stroke="#2b2b2b" stroke-width="1.35"/><line x1="1096.52" y1="1037.85" x2="1100.72" y2="1037.85" stroke="#2b2b2b" stroke-width="1.5"/><text x="1094.72" y="1038" font-size="18" font-weight="bold" font-style="normal" text-anchor="middle" >*</text><text x="1102.52" y="1038" font-size="18" font-weight="bold" font-style="normal" text-anchor="middle" >*</text><g transform="translate(1105.87,1214.5)"><rect x="0" y="-148.7" width="7.9" height="148.7" fill="url(#pCc)"/><path d="M0.6,-148.7 V0 H7.3 V-148.7" fill="none" stroke="#8a8a8a" stroke-width="1.2"/></g><g transform="translate(1105.87,1053.1)"><rect x="0" y="-3.5" width="7.9" height="3.5" fill="url(#pCc)"/><path d="M0.6,0 V-2.9 H7.3 V0" fill="none" stroke="#8a8a8a" stroke-width="1.2"/></g><line x1="1109.82" y1="1042.52" x2="1109.82" y2="1049.6" stroke="#2b2b2b" stroke-width="1.35"/><line x1="1107.72" y1="1042.52" x2="1111.92" y2="1042.52" stroke="#2b2b2b" stroke-width="1.5"/><text x="1105.92" y="1044" font-size="18" font-weight="bold" font-style="normal" text-anchor="middle" >*</text><text x="1113.72" y="1044" font-size="18" font-weight="bold" font-style="normal" text-anchor="middle" >*</text><g transform="translate(1117.07,1214.5)"><rect x="0.5" y="-63.14" width="6.9" height="63.14" fill="url(#pD)" stroke="#dedede" stroke-width="1.0"/></g><line x1="1121.02" y1="1073.23" x2="1121.02" y2="1150.86" stroke="#2b2b2b" stroke-width="1.35"/><line x1="1118.92" y1="1073.23" x2="1123.12" y2="1073.23" stroke="#2b2b2b" stroke-width="1.5"/><text x="1117.12" y="1076" font-size="18" font-weight="bold" font-style="normal" text-anchor="middle" >*</text><text x="1124.92" y="1076" font-size="18" font-weight="bold" font-style="normal" text-anchor="middle" >*</text><g transform="translate(1128.27,1214.5)"><rect x="0.6" y="-87.13" width="6.7" height="87.13" fill="url(#pE)" stroke="#6a6a6a" stroke-width="1.2"/></g><line x1="1132.22" y1="1065.8" x2="1132.22" y2="1126.77" stroke="#2b2b2b" stroke-width="1.35"/><line x1="1132.22" y1="1052.93" x2="1132.22" y2="1053.1" stroke="#2b2b2b" stroke-width="1.35"/><line x1="1130.12" y1="1052.93" x2="1134.32" y2="1052.93" stroke="#2b2b2b" stroke-width="1.5"/><text x="1128.32" y="1055.5" font-size="18" font-weight="bold" font-style="normal" text-anchor="middle" >*</text><text x="1136.12" y="1055.5" font-size="18" font-weight="bold" font-style="normal" text-anchor="middle" >*</text><g transform="translate(1139.47,1214.5)"><rect x="0" y="-148.7" width="7.9" height="148.7" fill="url(#pT)"/><path d="M0.5,-148.7 V0 H7.4 V-148.7" fill="none" stroke="#b4b4b8" stroke-width="1.0"/></g><g transform="translate(1139.47,1053.1)"><rect x="0" y="-45.82" width="7.9" height="45.82" fill="url(#pT)"/><path d="M0.5,0 V-45.32 H7.4 V0" fill="none" stroke="#b4b4b8" stroke-width="1.0"/></g><line x1="1143.42" y1="989.78" x2="1143.42" y2="1007.28" stroke="#2b2b2b" stroke-width="1.35"/><line x1="1141.32" y1="989.78" x2="1145.52" y2="989.78" stroke="#2b2b2b" stroke-width="1.5"/><rect x="110.7" y="1064.4" width="3.2" height="151.8" fill="#000"/><rect x="103" y="1213.1" width="10.9" height="2.8" fill="#000"/><text x="99.5" y="1219.2" font-size="18.5" font-weight="bold" font-style="normal" text-anchor="end" >0.00</text><rect x="103" y="1183.36" width="10.9" height="2.8" fill="#000"/><text x="99.5" y="1189.46" font-size="18.5" font-weight="bold" font-style="normal" text-anchor="end" >0.02</text><rect x="103" y="1153.62" width="10.9" height="2.8" fill="#000"/><text x="99.5" y="1159.72" font-size="18.5" font-weight="bold" font-style="normal" text-anchor="end" >0.04</text><rect x="103" y="1123.88" width="10.9" height="2.8" fill="#000"/><text x="99.5" y="1129.98" font-size="18.5" font-weight="bold" font-style="normal" text-anchor="end" >0.06</text><rect x="103" y="1094.14" width="10.9" height="2.8" fill="#000"/><text x="99.5" y="1100.24" font-size="18.5" font-weight="bold" font-style="normal" text-anchor="end" >0.08</text><rect x="103" y="1064.4" width="10.9" height="2.8" fill="#000"/><text x="99.5" y="1070.5" font-size="18.5" font-weight="bold" font-style="normal" text-anchor="end" >0.10</text><rect x="103" y="1064.4" width="17" height="2.8" fill="#000"/><rect x="110.7" y="885.9" width="3.2" height="168.6" fill="#000"/><rect x="103" y="1010.87" width="10.9" height="2.8" fill="#000"/><text x="99.5" y="1016.97" font-size="18.5" font-weight="bold" font-style="normal" text-anchor="end" >5</text><rect x="103" y="969.22" width="10.9" height="2.8" fill="#000"/><text x="99.5" y="975.32" font-size="18.5" font-weight="bold" font-style="normal" text-anchor="end" >10</text><rect x="103" y="927.56" width="10.9" height="2.8" fill="#000"/><text x="99.5" y="933.66" font-size="18.5" font-weight="bold" font-style="normal" text-anchor="end" >15</text><rect x="103" y="885.9" width="10.9" height="2.8" fill="#000"/><text x="99.5" y="892" font-size="18.5" font-weight="bold" font-style="normal" text-anchor="end" >20</text><rect x="103" y="1051.7" width="17" height="2.8" fill="#000"/><rect x="111" y="1213.2" width="1042" height="3.4" fill="#000"/><rect x="147.4" y="1214.9" width="3.2" height="8.1" fill="#000"/><text x="153.4" y="1236.3" font-size="17.9" font-weight="bold" font-style="italic" text-anchor="end" transform="rotate(-45 153.4 1236.3)">Pseudomonas</text><rect x="221.74" y="1214.9" width="3.2" height="8.1" fill="#000"/><text x="227.74" y="1236.3" font-size="17.9" font-weight="bold" font-style="italic" text-anchor="end" transform="rotate(-45 227.74 1236.3)">Clostridium_sensu_stricto_1</text><rect x="296.08" y="1214.9" width="3.2" height="8.1" fill="#000"/><text x="302.08" y="1236.3" font-size="17.9" font-weight="bold" font-style="italic" text-anchor="end" transform="rotate(-45 302.08 1236.3)">Sphingobacterium</text><rect x="370.42" y="1214.9" width="3.2" height="8.1" fill="#000"/><text x="376.42" y="1236.3" font-size="17.9" font-weight="bold" font-style="italic" text-anchor="end" transform="rotate(-45 376.42 1236.3)">Chryseobacterium</text><rect x="444.76" y="1214.9" width="3.2" height="8.1" fill="#000"/><text x="450.76" y="1236.3" font-size="17.9" font-weight="bold" font-style="italic" text-anchor="end" transform="rotate(-45 450.76 1236.3)">Novosphingobium</text><rect x="519.1" y="1214.9" width="3.2" height="8.1" fill="#000"/><text x="525.1" y="1236.3" font-size="17.9" font-weight="bold" font-style="italic" text-anchor="end" transform="rotate(-45 525.1 1236.3)">Rhizobium</text><rect x="593.44" y="1214.9" width="3.2" height="8.1" fill="#000"/><text x="599.44" y="1236.3" font-size="17.9" font-weight="bold" font-style="italic" text-anchor="end" transform="rotate(-45 599.44 1236.3)">Stenotrophomonas</text><rect x="667.78" y="1214.9" width="3.2" height="8.1" fill="#000"/><text x="673.78" y="1236.3" font-size="17.9" font-weight="bold" font-style="italic" text-anchor="end" transform="rotate(-45 673.78 1236.3)">Sphingobium</text><rect x="742.12" y="1214.9" width="3.2" height="8.1" fill="#000"/><text x="748.12" y="1236.3" font-size="17.9" font-weight="bold" font-style="italic" text-anchor="end" transform="rotate(-45 748.12 1236.3)">Ramlibacter</text><rect x="816.46" y="1214.9" width="3.2" height="8.1" fill="#000"/><text x="822.46" y="1236.3" font-size="17.9" font-weight="bold" font-style="italic" text-anchor="end" transform="rotate(-45 822.46 1236.3)">Flavobacterium</text><rect x="890.8" y="1214.9" width="3.2" height="8.1" fill="#000"/><text x="896.8" y="1236.3" font-size="17.9" font-weight="bold" font-style="italic" text-anchor="end" transform="rotate(-45 896.8 1236.3)">Aeromonas</text><rect x="965.14" y="1214.9" width="3.2" height="8.1" fill="#000"/><text x="971.14" y="1236.3" font-size="17.9" font-weight="bold" font-style="italic" text-anchor="end" transform="rotate(-45 971.14 1236.3)">Mucilaginibacter</text><rect x="1039.48" y="1214.9" width="3.2" height="8.1" fill="#000"/><text x="1045.48" y="1236.3" font-size="17.9" font-weight="bold" font-style="italic" text-anchor="end" transform="rotate(-45 1045.48 1236.3)">Sphingomonas</text><rect x="1113.82" y="1214.9" width="3.2" height="8.1" fill="#000"/><text x="1119.82" y="1236.3" font-size="17.9" font-weight="bold" font-style="italic" text-anchor="end" transform="rotate(-45 1119.82 1236.3)">Enterobacter</text><text x="57" y="1053.5" font-size="18.2" font-weight="bold" text-anchor="middle" transform="rotate(-90 57 1053.5)">Relative abundance (%)</text><text x="632.1" y="1402.8" font-size="18.5" font-weight="bold" font-style="normal" text-anchor="middle" >Bacterial genus</text><g transform="translate(1171,915.5)"><rect x="0.5" y="0.5" width="34.3" height="11" fill="url(#pA)" stroke="#555" stroke-width="1.0"/></g><text x="1225.7" y="928.87" font-size="20.6" font-weight="normal" font-style="normal" text-anchor="start" >A</text><g transform="translate(1171,952.4)"><rect x="0.5" y="0.5" width="34.3" height="11" fill="url(#pBc)" stroke="#b0b0b4" stroke-width="1.0"/></g><text x="1225.7" y="965.77" font-size="20.6" font-weight="normal" font-style="normal" text-anchor="start" >B</text><g transform="translate(1171,989.3)"><rect x="0.6" y="0.6" width="34.1" height="10.8" fill="#fff" stroke="#8a8a8a" stroke-width="1.2"/><rect x="1.2" y="7.4" width="32.9" height="1.8" fill="#777"/></g><text x="1225.7" y="1002.67" font-size="20.6" font-weight="normal" font-style="normal" text-anchor="start" >C</text><g transform="translate(1171,1026.2)"><rect x="0.5" y="0.5" width="34.3" height="11" fill="url(#pD)" stroke="#dedede" stroke-width="1.0"/></g><text x="1225.7" y="1039.57" font-size="20.6" font-weight="normal" font-style="normal" text-anchor="start" >D</text><g transform="translate(1171,1063.1)"><rect x="0.6" y="0.6" width="34.1" height="10.8" fill="url(#pE)" stroke="#6a6a6a" stroke-width="1.2"/></g><text x="1225.7" y="1076.47" font-size="20.6" font-weight="normal" font-style="normal" text-anchor="start" >E</text><g transform="translate(1171,1100)"><rect x="0.5" y="0.5" width="34.3" height="11" fill="url(#pT)" stroke="#b4b4b8" stroke-width="1.0"/></g><text x="1225.7" y="1113.37" font-size="20.6" font-weight="normal" font-style="normal" text-anchor="start" >BT</text><text x="1" y="760.4" font-size="44" font-weight="bold" font-style="normal" text-anchor="start" >C</text><g transform="translate(1423.45,1213.5)"><rect x="0.5" y="-5.74" width="23" height="5.74" fill="url(#pA)" stroke="#222" stroke-width="1.0"/></g><line x1="1435.45" y1="1204.93" x2="1435.45" y2="1207.26" stroke="#2b2b2b" stroke-width="1.4"/><line x1="1429.85" y1="1204.93" x2="1441.05" y2="1204.93" stroke="#2b2b2b" stroke-width="1.7"/><text x="1428.25" y="1196" font-size="32" font-weight="bold" font-style="normal" text-anchor="middle" >*</text><text x="1442.65" y="1196" font-size="32" font-weight="bold" font-style="normal" text-anchor="middle" >*</text><g transform="translate(1458.55,1213.5)"><rect x="0" y="-186.4" width="24" height="186.4" fill="url(#pBd)"/><path d="M0.5,-186.4 V0 H23.5 V-186.4" fill="none" stroke="#b0b0b4" stroke-width="1.0"/></g><g transform="translate(1458.55,997.1)"><rect x="0" y="-2.48" width="24" height="2.48" fill="url(#pBd)"/><path d="M0.5,0 V-1.98 H23.5 V0" fill="none" stroke="#b0b0b4" stroke-width="1.0"/></g><line x1="1470.55" y1="983.74" x2="1470.55" y2="994.62" stroke="#2b2b2b" stroke-width="1.4"/><line x1="1464.95" y1="983.74" x2="1476.15" y2="983.74" stroke="#2b2b2b" stroke-width="1.7"/><text x="1463.35" y="984.7" font-size="32" font-weight="bold" font-style="normal" text-anchor="middle" >*</text><text x="1477.75" y="984.7" font-size="32" font-weight="bold" font-style="normal" text-anchor="middle" >*</text><g transform="translate(1493.65,1213.5)"><rect x="0.6" y="-41.99" width="22.8" height="41.99" fill="url(#pCd)" stroke="#8a8a8a" stroke-width="1.2"/></g><line x1="1505.65" y1="1134.65" x2="1505.65" y2="1170.91" stroke="#2b2b2b" stroke-width="1.4"/><line x1="1500.05" y1="1134.65" x2="1511.25" y2="1134.65" stroke="#2b2b2b" stroke-width="1.7"/><text x="1498.45" y="1138.2" font-size="32" font-weight="bold" font-style="normal" text-anchor="middle" >*</text><text x="1512.85" y="1138.2" font-size="32" font-weight="bold" font-style="normal" text-anchor="middle" >*</text><g transform="translate(1528.75,1213.5)"><rect x="0.5" y="-8.07" width="23" height="8.07" fill="url(#pD)" stroke="#dedede" stroke-width="1.0"/></g><line x1="1540.75" y1="1197.19" x2="1540.75" y2="1204.93" stroke="#2b2b2b" stroke-width="1.4"/><line x1="1535.15" y1="1197.19" x2="1546.35" y2="1197.19" stroke="#2b2b2b" stroke-width="1.7"/><text x="1533.55" y="1197.5" font-size="32" font-weight="bold" font-style="normal" text-anchor="middle" >*</text><text x="1547.95" y="1197.5" font-size="32" font-weight="bold" font-style="normal" text-anchor="middle" >*</text><g transform="translate(1563.85,1213.5)"><rect x="0" y="-186.4" width="24" height="186.4" fill="url(#pE)"/><path d="M0.6,-186.4 V0 H23.4 V-186.4" fill="none" stroke="#6a6a6a" stroke-width="1.2"/></g><g transform="translate(1563.85,997.1)"><rect x="0" y="-0.76" width="24" height="0.76" fill="url(#pE)"/><path d="M0.6,0 V-0.16 H23.4 V0" fill="none" stroke="#6a6a6a" stroke-width="1.2"/></g><line x1="1575.85" y1="991.75" x2="1575.85" y2="996.34" stroke="#2b2b2b" stroke-width="1.4"/><line x1="1570.25" y1="991.75" x2="1581.45" y2="991.75" stroke="#2b2b2b" stroke-width="1.7"/><text x="1568.65" y="990.1" font-size="32" font-weight="bold" font-style="normal" text-anchor="middle" >*</text><text x="1583.05" y="990.1" font-size="32" font-weight="bold" font-style="normal" text-anchor="middle" >*</text><g transform="translate(1598.95,1213.5)"><rect x="0" y="-186.4" width="24" height="186.4" fill="url(#pT)"/><path d="M0.5,-186.4 V0 H23.5 V-186.4" fill="none" stroke="#b4b4b8" stroke-width="1.0"/></g><g transform="translate(1598.95,997.1)"><rect x="0" y="-115.31" width="24" height="115.31" fill="url(#pT)"/><path d="M0.5,0 V-114.81 H23.5 V0" fill="none" stroke="#b4b4b8" stroke-width="1.0"/></g><line x1="1610.95" y1="853.91" x2="1610.95" y2="881.79" stroke="#2b2b2b" stroke-width="1.4"/><line x1="1605.35" y1="853.91" x2="1616.55" y2="853.91" stroke="#2b2b2b" stroke-width="1.7"/><g transform="translate(1658.55,1213.5)"><rect x="0" y="-186.4" width="24" height="186.4" fill="url(#pA)"/><path d="M0.5,-186.4 V0 H23.5 V-186.4" fill="none" stroke="#222" stroke-width="1.0"/></g><g transform="translate(1658.55,997.1)"><rect x="0" y="-6.3" width="24" height="6.3" fill="url(#pA)"/><path d="M0.5,0 V-5.8 H23.5 V0" fill="none" stroke="#222" stroke-width="1.0"/></g><line x1="1670.55" y1="990.42" x2="1670.55" y2="990.8" stroke="#2b2b2b" stroke-width="1.4"/><line x1="1664.95" y1="990.42" x2="1676.15" y2="990.42" stroke="#2b2b2b" stroke-width="1.7"/><text x="1670.55" y="992.8" font-size="32" font-weight="bold" font-style="normal" text-anchor="middle" >*</text><g transform="translate(1693.65,1213.5)"><rect x="0" y="-186.4" width="24" height="186.4" fill="url(#pBd)"/><path d="M0.5,-186.4 V0 H23.5 V-186.4" fill="none" stroke="#b0b0b4" stroke-width="1.0"/></g><g transform="translate(1693.65,997.1)"><rect x="0" y="-6.68" width="24" height="6.68" fill="url(#pBd)"/><path d="M0.5,0 V-6.18 H23.5 V0" fill="none" stroke="#b0b0b4" stroke-width="1.0"/></g><line x1="1705.65" y1="988.89" x2="1705.65" y2="990.42" stroke="#2b2b2b" stroke-width="1.4"/><line x1="1700.05" y1="988.89" x2="1711.25" y2="988.89" stroke="#2b2b2b" stroke-width="1.7"/><text x="1705.65" y="992" font-size="32" font-weight="bold" font-style="normal" text-anchor="middle" >*</text><g transform="translate(1728.75,1213.5)"><rect x="0" y="-186.4" width="24" height="186.4" fill="url(#pCd)"/><path d="M0.6,-186.4 V0 H23.4 V-186.4" fill="none" stroke="#8a8a8a" stroke-width="1.2"/></g><g transform="translate(1728.75,997.1)"><rect x="0" y="-7.06" width="24" height="7.06" fill="url(#pCd)"/><path d="M0.6,0 V-6.46 H23.4 V0" fill="none" stroke="#8a8a8a" stroke-width="1.2"/></g><line x1="1740.75" y1="988.32" x2="1740.75" y2="990.04" stroke="#2b2b2b" stroke-width="1.4"/><line x1="1735.15" y1="988.32" x2="1746.35" y2="988.32" stroke="#2b2b2b" stroke-width="1.7"/><text x="1740.75" y="990.8" font-size="32" font-weight="bold" font-style="normal" text-anchor="middle" >*</text><g transform="translate(1763.85,1213.5)"><rect x="0" y="-186.4" width="24" height="186.4" fill="url(#pD)"/><path d="M0.5,-186.4 V0 H23.5 V-186.4" fill="none" stroke="#dedede" stroke-width="1.0"/></g><g transform="translate(1763.85,997.1)"><rect x="0" y="-8.78" width="24" height="8.78" fill="url(#pD)"/><path d="M0.5,0 V-8.28 H23.5 V0" fill="none" stroke="#dedede" stroke-width="1.0"/></g><line x1="1775.85" y1="981.25" x2="1775.85" y2="988.32" stroke="#2b2b2b" stroke-width="1.4"/><line x1="1770.25" y1="981.25" x2="1781.45" y2="981.25" stroke="#2b2b2b" stroke-width="1.7"/><g transform="translate(1798.95,1213.5)"><rect x="0" y="-186.4" width="24" height="186.4" fill="url(#pE)"/><path d="M0.6,-186.4 V0 H23.4 V-186.4" fill="none" stroke="#6a6a6a" stroke-width="1.2"/></g><g transform="translate(1798.95,997.1)"><rect x="0" y="-6.68" width="24" height="6.68" fill="url(#pE)"/><path d="M0.6,0 V-6.08 H23.4 V0" fill="none" stroke="#6a6a6a" stroke-width="1.2"/></g><line x1="1810.95" y1="986.03" x2="1810.95" y2="990.42" stroke="#2b2b2b" stroke-width="1.4"/><line x1="1805.35" y1="986.03" x2="1816.55" y2="986.03" stroke="#2b2b2b" stroke-width="1.7"/><text x="1810.95" y="990.8" font-size="32" font-weight="bold" font-style="normal" text-anchor="middle" >*</text><g transform="translate(1834.05,1213.5)"><rect x="0" y="-186.4" width="24" height="186.4" fill="url(#pT)"/><path d="M0.5,-186.4 V0 H23.5 V-186.4" fill="none" stroke="#b4b4b8" stroke-width="1.0"/></g><g transform="translate(1834.05,997.1)"><rect x="0" y="-21.19" width="24" height="21.19" fill="url(#pT)"/><path d="M0.5,0 V-20.69 H23.5 V0" fill="none" stroke="#b4b4b8" stroke-width="1.0"/></g><line x1="1846.05" y1="967.51" x2="1846.05" y2="975.91" stroke="#2b2b2b" stroke-width="1.4"/><line x1="1840.45" y1="967.51" x2="1851.65" y2="967.51" stroke="#2b2b2b" stroke-width="1.7"/><g transform="translate(1893.65,1213.5)"><rect x="0.5" y="-15.34" width="23" height="15.34" fill="url(#pA)" stroke="#222" stroke-width="1.0"/></g><line x1="1905.65" y1="1182.74" x2="1905.65" y2="1197.66" stroke="#2b2b2b" stroke-width="1.4"/><line x1="1900.05" y1="1182.74" x2="1911.25" y2="1182.74" stroke="#2b2b2b" stroke-width="1.7"/><text x="1905.65" y="1185.8" font-size="32" font-weight="bold" font-style="normal" text-anchor="middle" >*</text><g transform="translate(1928.75,1213.5)"><rect x="0.5" y="-68.1" width="23" height="68.1" fill="url(#pBd)" stroke="#b0b0b4" stroke-width="1.0"/></g><line x1="1940.75" y1="1068.11" x2="1940.75" y2="1144.9" stroke="#2b2b2b" stroke-width="1.4"/><line x1="1935.15" y1="1068.11" x2="1946.35" y2="1068.11" stroke="#2b2b2b" stroke-width="1.7"/><text x="1940.75" y="1068.8" font-size="32" font-weight="bold" font-style="normal" text-anchor="middle" >*</text><g transform="translate(1963.85,1213.5)"><rect x="0.6" y="-9.09" width="22.8" height="9.09" fill="url(#pCd)" stroke="#8a8a8a" stroke-width="1.2"/></g><line x1="1975.85" y1="1195.23" x2="1975.85" y2="1203.81" stroke="#2b2b2b" stroke-width="1.4"/><line x1="1970.25" y1="1195.23" x2="1981.45" y2="1195.23" stroke="#2b2b2b" stroke-width="1.7"/><text x="1975.85" y="1199.5" font-size="32" font-weight="bold" font-style="normal" text-anchor="middle" >*</text><g transform="translate(1998.95,1213.5)"><rect x="0.5" y="-6.02" width="23" height="6.02" fill="url(#pD)" stroke="#dedede" stroke-width="1.0"/></g><line x1="2010.95" y1="1203.25" x2="2010.95" y2="1206.98" stroke="#2b2b2b" stroke-width="1.4"/><line x1="2005.35" y1="1203.25" x2="2016.55" y2="1203.25" stroke="#2b2b2b" stroke-width="1.7"/><text x="2010.95" y="1207.3" font-size="32" font-weight="bold" font-style="normal" text-anchor="middle" >*</text><g transform="translate(2034.05,1213.5)"><rect x="0" y="-186.4" width="24" height="186.4" fill="url(#pE)"/><path d="M0.6,-186.4 V0 H23.4 V-186.4" fill="none" stroke="#6a6a6a" stroke-width="1.2"/></g><g transform="translate(2034.05,997.1)"><rect x="0" y="-1.91" width="24" height="1.91" fill="url(#pE)"/><path d="M0.6,0 V-1.31 H23.4 V0" fill="none" stroke="#6a6a6a" stroke-width="1.2"/></g><line x1="2046.05" y1="985.64" x2="2046.05" y2="995.19" stroke="#2b2b2b" stroke-width="1.4"/><line x1="2040.45" y1="985.64" x2="2051.65" y2="985.64" stroke="#2b2b2b" stroke-width="1.7"/><text x="2046.05" y="986.6" font-size="32" font-weight="bold" font-style="normal" text-anchor="middle" >*</text><g transform="translate(2069.15,1213.5)"><rect x="0" y="-186.4" width="24" height="186.4" fill="url(#pT)"/><path d="M0.5,-186.4 V0 H23.5 V-186.4" fill="none" stroke="#b4b4b8" stroke-width="1.0"/></g><g transform="translate(2069.15,997.1)"><rect x="0" y="-17.76" width="24" height="17.76" fill="url(#pT)"/><path d="M0.5,0 V-17.26 H23.5 V0" fill="none" stroke="#b4b4b8" stroke-width="1.0"/></g><line x1="2081.15" y1="953.76" x2="2081.15" y2="979.34" stroke="#2b2b2b" stroke-width="1.4"/><line x1="2075.55" y1="953.76" x2="2086.75" y2="953.76" stroke="#2b2b2b" stroke-width="1.7"/><g transform="translate(2128.75,1213.5)"><rect x="0.5" y="-106.4" width="23" height="106.4" fill="url(#pA)" stroke="#222" stroke-width="1.0"/></g><line x1="2140.75" y1="1027.1" x2="2140.75" y2="1106.6" stroke="#2b2b2b" stroke-width="1.4"/><line x1="2140.75" y1="996.72" x2="2140.75" y2="997.1" stroke="#2b2b2b" stroke-width="1.4"/><line x1="2135.15" y1="996.72" x2="2146.35" y2="996.72" stroke="#2b2b2b" stroke-width="1.7"/><g transform="translate(2163.85,1213.5)"><rect x="0" y="-186.4" width="24" height="186.4" fill="url(#pBd)"/><path d="M0.5,-186.4 V0 H23.5 V-186.4" fill="none" stroke="#b0b0b4" stroke-width="1.0"/></g><g transform="translate(2163.85,997.1)"><rect x="0" y="-2.67" width="24" height="2.67" fill="url(#pBd)"/><path d="M0.5,0 V-2.17 H23.5 V0" fill="none" stroke="#b0b0b4" stroke-width="1.0"/></g><line x1="2175.85" y1="988.7" x2="2175.85" y2="994.43" stroke="#2b2b2b" stroke-width="1.4"/><line x1="2170.25" y1="988.7" x2="2181.45" y2="988.7" stroke="#2b2b2b" stroke-width="1.7"/><g transform="translate(2198.95,1213.5)"><rect x="0" y="-186.4" width="24" height="186.4" fill="url(#pCd)"/><path d="M0.6,-186.4 V0 H23.4 V-186.4" fill="none" stroke="#8a8a8a" stroke-width="1.2"/></g><g transform="translate(2198.95,997.1)"><rect x="0" y="-3.63" width="24" height="3.63" fill="url(#pCd)"/><path d="M0.6,0 V-3.03 H23.4 V0" fill="none" stroke="#8a8a8a" stroke-width="1.2"/></g><line x1="2210.95" y1="990.42" x2="2210.95" y2="993.47" stroke="#2b2b2b" stroke-width="1.4"/><line x1="2205.35" y1="990.42" x2="2216.55" y2="990.42" stroke="#2b2b2b" stroke-width="1.7"/><g transform="translate(2234.05,1213.5)"><rect x="0.5" y="-133.71" width="23" height="133.71" fill="url(#pD)" stroke="#dedede" stroke-width="1.0"/></g><line x1="2246.05" y1="1027.1" x2="2246.05" y2="1079.29" stroke="#2b2b2b" stroke-width="1.4"/><line x1="2246.05" y1="996.72" x2="2246.05" y2="997.1" stroke="#2b2b2b" stroke-width="1.4"/><line x1="2240.45" y1="996.72" x2="2251.65" y2="996.72" stroke="#2b2b2b" stroke-width="1.7"/><g transform="translate(2269.15,1213.5)"><rect x="0" y="-186.4" width="24" height="186.4" fill="url(#pE)"/><path d="M0.6,-186.4 V0 H23.4 V-186.4" fill="none" stroke="#6a6a6a" stroke-width="1.2"/></g><g transform="translate(2269.15,997.1)"><rect x="0" y="-2.67" width="24" height="2.67" fill="url(#pE)"/><path d="M0.6,0 V-2.07 H23.4 V0" fill="none" stroke="#6a6a6a" stroke-width="1.2"/></g><line x1="2281.15" y1="989.65" x2="2281.15" y2="994.43" stroke="#2b2b2b" stroke-width="1.4"/><line x1="2275.55" y1="989.65" x2="2286.75" y2="989.65" stroke="#2b2b2b" stroke-width="1.7"/><g transform="translate(2304.25,1213.5)"><rect x="0" y="-186.4" width="24" height="186.4" fill="url(#pT)"/><path d="M0.5,-186.4 V0 H23.5 V-186.4" fill="none" stroke="#b4b4b8" stroke-width="1.0"/></g><g transform="translate(2304.25,997.1)"><rect x="0" y="-1.15" width="24" height="1.15" fill="url(#pT)"/><path d="M0.5,0 V-0.65 H23.5 V0" fill="none" stroke="#b4b4b8" stroke-width="1.0"/></g><line x1="2316.25" y1="994.05" x2="2316.25" y2="995.95" stroke="#2b2b2b" stroke-width="1.4"/><line x1="2310.65" y1="994.05" x2="2321.85" y2="994.05" stroke="#2b2b2b" stroke-width="1.7"/><rect x="1403.6" y="1025.2" width="4" height="190.3" fill="#000"/><rect x="1394.1" y="1211.6" width="13.5" height="3.8" fill="#000"/><text x="1389.2" y="1219.2" font-size="22.5" font-weight="bold" font-style="normal" text-anchor="end" >0.0</text><rect x="1394.1" y="1165" width="13.5" height="3.8" fill="#000"/><text x="1389.2" y="1172.6" font-size="22.5" font-weight="bold" font-style="normal" text-anchor="end" >0.5</text><rect x="1394.1" y="1118.4" width="13.5" height="3.8" fill="#000"/><text x="1389.2" y="1126" font-size="22.5" font-weight="bold" font-style="normal" text-anchor="end" >1.0</text><rect x="1394.1" y="1071.8" width="13.5" height="3.8" fill="#000"/><text x="1389.2" y="1079.4" font-size="22.5" font-weight="bold" font-style="normal" text-anchor="end" >1.5</text><rect x="1394.1" y="1025.2" width="13.5" height="3.8" fill="#000"/><text x="1389.2" y="1032.8" font-size="22.5" font-weight="bold" font-style="normal" text-anchor="end" >2.0</text><rect x="1394.1" y="1025.2" width="21.9" height="3.8" fill="#000"/><rect x="1403.6" y="808.1" width="4" height="190.9" fill="#000"/><rect x="1394.1" y="960.83" width="13.5" height="3.8" fill="#000"/><text x="1389.2" y="968.43" font-size="22.5" font-weight="bold" font-style="normal" text-anchor="end" >20</text><rect x="1394.1" y="922.65" width="13.5" height="3.8" fill="#000"/><text x="1389.2" y="930.25" font-size="22.5" font-weight="bold" font-style="normal" text-anchor="end" >40</text><rect x="1394.1" y="884.47" width="13.5" height="3.8" fill="#000"/><text x="1389.2" y="892.07" font-size="22.5" font-weight="bold" font-style="normal" text-anchor="end" >60</text><rect x="1394.1" y="846.28" width="13.5" height="3.8" fill="#000"/><text x="1389.2" y="853.88" font-size="22.5" font-weight="bold" font-style="normal" text-anchor="end" >80</text><rect x="1394.1" y="808.1" width="13.5" height="3.8" fill="#000"/><text x="1389.2" y="815.7" font-size="22.5" font-weight="bold" font-style="normal" text-anchor="end" >100</text><rect x="1394.1" y="995.2" width="21.9" height="3.8" fill="#000"/><rect x="1394" y="1212.9" width="954" height="4" fill="#000"/><rect x="1521.2" y="1214.9" width="4" height="11.1" fill="#000"/><text x="1529" y="1242.6" font-size="22.5" font-weight="bold" font-style="italic" text-anchor="end" transform="rotate(-45 1529 1242.6)">Clonostachys</text><rect x="1756.3" y="1214.9" width="4" height="11.1" fill="#000"/><text x="1764.1" y="1242.6" font-size="22.5" font-weight="bold" font-style="italic" text-anchor="end" transform="rotate(-45 1764.1 1242.6)">Fusarium</text><rect x="1991.4" y="1214.9" width="4" height="11.1" fill="#000"/><text x="1999.2" y="1242.6" font-size="22.5" font-weight="bold" font-style="italic" text-anchor="end" transform="rotate(-45 1999.2 1242.6)">Xylaria</text><rect x="2226.5" y="1214.9" width="4" height="11.1" fill="#000"/><text x="2234.3" y="1242.6" font-size="22.5" font-weight="bold" font-style="italic" text-anchor="end" transform="rotate(-45 2234.3 1242.6)">Exophiala</text><text x="1336.3" y="1015.3" font-size="23" font-weight="bold" text-anchor="middle" transform="rotate(-90 1336.3 1015.3)">Relative abundance (%)</text><text x="1876.4" y="1388.9" font-size="23" font-weight="bold" font-style="normal" text-anchor="middle" >Fungal genus</text><g transform="translate(2387.8,826.5)"><rect x="0.5" y="0.5" width="42.7" height="20" fill="url(#pA)" stroke="#555" stroke-width="1.0"/></g><text x="2455.2" y="847.81" font-size="33" font-weight="normal" font-style="normal" text-anchor="start" >A</text><g transform="translate(2387.8,873)"><rect x="0.5" y="0.5" width="42.7" height="20" fill="url(#pBd)" stroke="#b0b0b4" stroke-width="1.0"/></g><text x="2455.2" y="894.31" font-size="33" font-weight="normal" font-style="normal" text-anchor="start" >B</text><g transform="translate(2387.8,919.5)"><rect x="0.6" y="0.6" width="42.5" height="19.8" fill="#fff" stroke="#8a8a8a" stroke-width="1.2"/><rect x="1.2" y="9.6" width="41.3" height="1.8" fill="#777"/></g><text x="2455.2" y="940.81" font-size="33" font-weight="normal" font-style="normal" text-anchor="start" >C</text><g transform="translate(2387.8,966)"><rect x="0.5" y="0.5" width="42.7" height="20" fill="url(#pD)" stroke="#dedede" stroke-width="1.0"/></g><text x="2455.2" y="987.31" font-size="33" font-weight="normal" font-style="normal" text-anchor="start" >D</text><g transform="translate(2387.8,1012.5)"><rect x="0.6" y="0.6" width="42.5" height="19.8" fill="url(#pE)" stroke="#6a6a6a" stroke-width="1.2"/></g><text x="2455.2" y="1033.81" font-size="33" font-weight="normal" font-style="normal" text-anchor="start" >E</text><g transform="translate(2387.8,1059)"><rect x="0.5" y="0.5" width="42.7" height="20" fill="url(#pT)" stroke="#b4b4b8" stroke-width="1.0"/></g><text x="2455.2" y="1080.31" font-size="33" font-weight="normal" font-style="normal" text-anchor="start" >BT</text><text x="1272" y="760.5" font-size="44" font-weight="bold" font-style="normal" text-anchor="start" >D</text></svg></body></html>
